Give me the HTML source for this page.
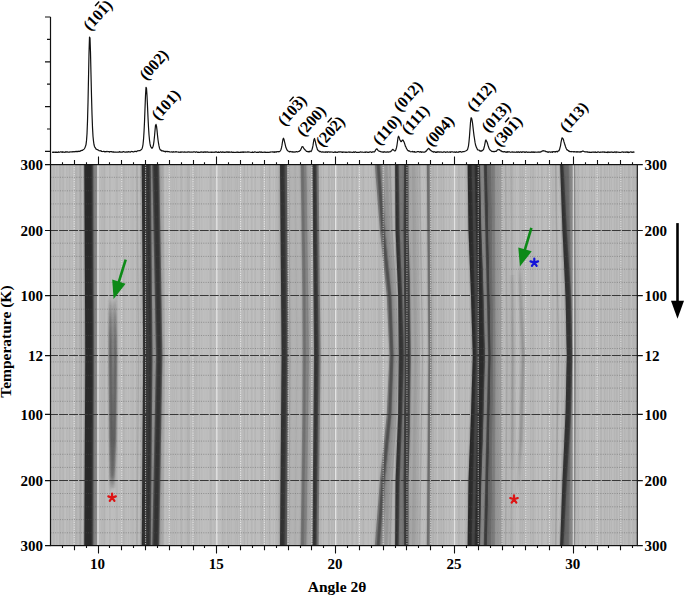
<!DOCTYPE html><html><head><meta charset="utf-8"><style>
html,body{margin:0;padding:0;background:#fff;width:685px;height:595px;overflow:hidden}
svg{display:block}
text{font-family:"Liberation Serif",serif;font-weight:bold;fill:#000}
</style></head><body>
<svg width="685" height="595" viewBox="0 0 685 595">
<defs>
<clipPath id="pc"><rect x="50.5" y="164.6" width="586.8" height="381.0"/></clipPath>
<filter id="bb" filterUnits="userSpaceOnUse" x="0" y="0" width="685" height="595"><feGaussianBlur stdDeviation="1.0 0.3"/></filter>
<filter id="bs" filterUnits="userSpaceOnUse" x="0" y="0" width="685" height="595"><feGaussianBlur stdDeviation="0.9 0.3"/></filter>
</defs>
<g clip-path="url(#pc)">
<rect x="50.5" y="164.6" width="586.8" height="381.0" fill="#bcbcbc"/>
<g><rect x="50.5" y="164.6" width="0.7" height="381.0" fill="#000" opacity="0.028"/><rect x="51.2" y="164.6" width="1.0" height="381.0" fill="#fff" opacity="0.013"/><rect x="52.2" y="164.6" width="0.5" height="381.0" fill="#fff" opacity="0.023"/><rect x="52.7" y="164.6" width="0.7" height="381.0" fill="#fff" opacity="0.034"/><rect x="53.4" y="164.6" width="1.2" height="381.0" fill="#000" opacity="0.042"/><rect x="54.5" y="164.6" width="0.6" height="381.0" fill="#fff" opacity="0.053"/><rect x="55.2" y="164.6" width="0.9" height="381.0" fill="#fff" opacity="0.044"/><rect x="56.1" y="164.6" width="0.6" height="381.0" fill="#fff" opacity="0.040"/><rect x="56.6" y="164.6" width="0.7" height="381.0" fill="#000" opacity="0.053"/><rect x="57.4" y="164.6" width="0.9" height="381.0" fill="#fff" opacity="0.054"/><rect x="58.3" y="164.6" width="1.1" height="381.0" fill="#fff" opacity="0.030"/><rect x="59.3" y="164.6" width="1.1" height="381.0" fill="#000" opacity="0.057"/><rect x="60.5" y="164.6" width="1.2" height="381.0" fill="#000" opacity="0.017"/><rect x="61.7" y="164.6" width="0.7" height="381.0" fill="#fff" opacity="0.032"/><rect x="62.3" y="164.6" width="1.0" height="381.0" fill="#000" opacity="0.035"/><rect x="63.3" y="164.6" width="0.8" height="381.0" fill="#000" opacity="0.039"/><rect x="64.1" y="164.6" width="1.0" height="381.0" fill="#fff" opacity="0.044"/><rect x="65.1" y="164.6" width="1.2" height="381.0" fill="#fff" opacity="0.060"/><rect x="66.4" y="164.6" width="1.0" height="381.0" fill="#000" opacity="0.053"/><rect x="67.4" y="164.6" width="1.3" height="381.0" fill="#fff" opacity="0.038"/><rect x="68.7" y="164.6" width="1.1" height="381.0" fill="#000" opacity="0.052"/><rect x="69.7" y="164.6" width="1.0" height="381.0" fill="#000" opacity="0.013"/><rect x="70.7" y="164.6" width="1.2" height="381.0" fill="#fff" opacity="0.014"/><rect x="71.9" y="164.6" width="1.1" height="381.0" fill="#000" opacity="0.018"/><rect x="73.0" y="164.6" width="0.7" height="381.0" fill="#fff" opacity="0.054"/><rect x="73.8" y="164.6" width="0.5" height="381.0" fill="#fff" opacity="0.012"/><rect x="74.3" y="164.6" width="1.1" height="381.0" fill="#000" opacity="0.054"/><rect x="75.4" y="164.6" width="1.3" height="381.0" fill="#000" opacity="0.060"/><rect x="76.7" y="164.6" width="0.7" height="381.0" fill="#000" opacity="0.040"/><rect x="77.4" y="164.6" width="0.5" height="381.0" fill="#000" opacity="0.030"/><rect x="77.9" y="164.6" width="1.0" height="381.0" fill="#000" opacity="0.012"/><rect x="78.9" y="164.6" width="1.2" height="381.0" fill="#000" opacity="0.058"/><rect x="80.1" y="164.6" width="1.2" height="381.0" fill="#000" opacity="0.033"/><rect x="81.3" y="164.6" width="0.9" height="381.0" fill="#fff" opacity="0.040"/><rect x="82.2" y="164.6" width="0.9" height="381.0" fill="#fff" opacity="0.057"/><rect x="83.2" y="164.6" width="0.9" height="381.0" fill="#000" opacity="0.046"/><rect x="84.1" y="164.6" width="0.7" height="381.0" fill="#000" opacity="0.059"/><rect x="84.8" y="164.6" width="0.9" height="381.0" fill="#000" opacity="0.011"/><rect x="85.7" y="164.6" width="0.8" height="381.0" fill="#fff" opacity="0.011"/><rect x="86.5" y="164.6" width="1.0" height="381.0" fill="#fff" opacity="0.013"/><rect x="87.5" y="164.6" width="1.0" height="381.0" fill="#000" opacity="0.044"/><rect x="88.5" y="164.6" width="0.8" height="381.0" fill="#fff" opacity="0.047"/><rect x="89.3" y="164.6" width="0.5" height="381.0" fill="#000" opacity="0.044"/><rect x="89.8" y="164.6" width="1.3" height="381.0" fill="#000" opacity="0.033"/><rect x="91.1" y="164.6" width="1.0" height="381.0" fill="#000" opacity="0.028"/><rect x="92.1" y="164.6" width="0.8" height="381.0" fill="#000" opacity="0.040"/><rect x="92.8" y="164.6" width="0.7" height="381.0" fill="#000" opacity="0.049"/><rect x="93.6" y="164.6" width="0.5" height="381.0" fill="#fff" opacity="0.047"/><rect x="94.1" y="164.6" width="0.7" height="381.0" fill="#000" opacity="0.050"/><rect x="94.8" y="164.6" width="0.7" height="381.0" fill="#000" opacity="0.032"/><rect x="95.5" y="164.6" width="1.1" height="381.0" fill="#000" opacity="0.026"/><rect x="96.6" y="164.6" width="0.8" height="381.0" fill="#fff" opacity="0.032"/><rect x="97.3" y="164.6" width="1.2" height="381.0" fill="#000" opacity="0.027"/><rect x="98.5" y="164.6" width="1.0" height="381.0" fill="#fff" opacity="0.033"/><rect x="99.6" y="164.6" width="0.7" height="381.0" fill="#000" opacity="0.036"/><rect x="100.2" y="164.6" width="0.7" height="381.0" fill="#fff" opacity="0.052"/><rect x="100.9" y="164.6" width="0.6" height="381.0" fill="#000" opacity="0.050"/><rect x="101.5" y="164.6" width="1.0" height="381.0" fill="#fff" opacity="0.027"/><rect x="102.5" y="164.6" width="0.6" height="381.0" fill="#000" opacity="0.050"/><rect x="103.1" y="164.6" width="0.7" height="381.0" fill="#000" opacity="0.031"/><rect x="103.9" y="164.6" width="0.8" height="381.0" fill="#000" opacity="0.056"/><rect x="104.7" y="164.6" width="0.6" height="381.0" fill="#000" opacity="0.057"/><rect x="105.3" y="164.6" width="1.2" height="381.0" fill="#fff" opacity="0.032"/><rect x="106.5" y="164.6" width="1.3" height="381.0" fill="#fff" opacity="0.021"/><rect x="107.8" y="164.6" width="1.1" height="381.0" fill="#fff" opacity="0.043"/><rect x="108.9" y="164.6" width="0.9" height="381.0" fill="#000" opacity="0.027"/><rect x="109.8" y="164.6" width="0.7" height="381.0" fill="#000" opacity="0.039"/><rect x="110.5" y="164.6" width="0.7" height="381.0" fill="#fff" opacity="0.012"/><rect x="111.2" y="164.6" width="1.2" height="381.0" fill="#fff" opacity="0.056"/><rect x="112.4" y="164.6" width="1.2" height="381.0" fill="#fff" opacity="0.039"/><rect x="113.7" y="164.6" width="0.5" height="381.0" fill="#fff" opacity="0.019"/><rect x="114.2" y="164.6" width="0.7" height="381.0" fill="#fff" opacity="0.036"/><rect x="114.9" y="164.6" width="0.8" height="381.0" fill="#fff" opacity="0.041"/><rect x="115.7" y="164.6" width="0.8" height="381.0" fill="#000" opacity="0.053"/><rect x="116.5" y="164.6" width="0.9" height="381.0" fill="#fff" opacity="0.028"/><rect x="117.4" y="164.6" width="0.7" height="381.0" fill="#000" opacity="0.051"/><rect x="118.0" y="164.6" width="0.6" height="381.0" fill="#fff" opacity="0.056"/><rect x="118.7" y="164.6" width="1.1" height="381.0" fill="#fff" opacity="0.010"/><rect x="119.8" y="164.6" width="1.0" height="381.0" fill="#fff" opacity="0.012"/><rect x="120.8" y="164.6" width="0.7" height="381.0" fill="#000" opacity="0.036"/><rect x="121.6" y="164.6" width="0.8" height="381.0" fill="#000" opacity="0.049"/><rect x="122.4" y="164.6" width="0.5" height="381.0" fill="#000" opacity="0.016"/><rect x="122.9" y="164.6" width="0.6" height="381.0" fill="#000" opacity="0.059"/><rect x="123.5" y="164.6" width="1.2" height="381.0" fill="#000" opacity="0.035"/><rect x="124.7" y="164.6" width="0.8" height="381.0" fill="#000" opacity="0.028"/><rect x="125.4" y="164.6" width="1.0" height="381.0" fill="#fff" opacity="0.028"/><rect x="126.4" y="164.6" width="0.7" height="381.0" fill="#000" opacity="0.016"/><rect x="127.1" y="164.6" width="0.9" height="381.0" fill="#fff" opacity="0.029"/><rect x="128.0" y="164.6" width="0.6" height="381.0" fill="#000" opacity="0.029"/><rect x="128.6" y="164.6" width="1.0" height="381.0" fill="#fff" opacity="0.029"/><rect x="129.6" y="164.6" width="1.1" height="381.0" fill="#fff" opacity="0.032"/><rect x="130.7" y="164.6" width="0.8" height="381.0" fill="#000" opacity="0.045"/><rect x="131.5" y="164.6" width="0.8" height="381.0" fill="#fff" opacity="0.033"/><rect x="132.4" y="164.6" width="0.7" height="381.0" fill="#000" opacity="0.045"/><rect x="133.1" y="164.6" width="0.6" height="381.0" fill="#000" opacity="0.031"/><rect x="133.6" y="164.6" width="1.2" height="381.0" fill="#fff" opacity="0.029"/><rect x="134.8" y="164.6" width="1.2" height="381.0" fill="#fff" opacity="0.023"/><rect x="136.0" y="164.6" width="0.9" height="381.0" fill="#000" opacity="0.051"/><rect x="136.9" y="164.6" width="1.0" height="381.0" fill="#fff" opacity="0.050"/><rect x="137.9" y="164.6" width="1.0" height="381.0" fill="#fff" opacity="0.038"/><rect x="139.0" y="164.6" width="0.6" height="381.0" fill="#fff" opacity="0.010"/><rect x="139.6" y="164.6" width="0.6" height="381.0" fill="#fff" opacity="0.012"/><rect x="140.2" y="164.6" width="0.6" height="381.0" fill="#000" opacity="0.054"/><rect x="140.7" y="164.6" width="0.6" height="381.0" fill="#000" opacity="0.052"/><rect x="141.4" y="164.6" width="0.6" height="381.0" fill="#fff" opacity="0.044"/><rect x="142.0" y="164.6" width="1.2" height="381.0" fill="#fff" opacity="0.039"/><rect x="143.2" y="164.6" width="1.1" height="381.0" fill="#000" opacity="0.048"/><rect x="144.3" y="164.6" width="0.9" height="381.0" fill="#fff" opacity="0.015"/><rect x="145.2" y="164.6" width="1.1" height="381.0" fill="#fff" opacity="0.013"/><rect x="146.3" y="164.6" width="0.8" height="381.0" fill="#fff" opacity="0.051"/><rect x="147.1" y="164.6" width="0.7" height="381.0" fill="#000" opacity="0.022"/><rect x="147.8" y="164.6" width="1.0" height="381.0" fill="#fff" opacity="0.030"/><rect x="148.7" y="164.6" width="0.8" height="381.0" fill="#000" opacity="0.028"/><rect x="149.5" y="164.6" width="0.8" height="381.0" fill="#000" opacity="0.035"/><rect x="150.4" y="164.6" width="1.3" height="381.0" fill="#000" opacity="0.047"/><rect x="151.7" y="164.6" width="0.6" height="381.0" fill="#fff" opacity="0.048"/><rect x="152.3" y="164.6" width="1.0" height="381.0" fill="#000" opacity="0.034"/><rect x="153.3" y="164.6" width="1.0" height="381.0" fill="#fff" opacity="0.017"/><rect x="154.3" y="164.6" width="0.6" height="381.0" fill="#fff" opacity="0.056"/><rect x="154.9" y="164.6" width="0.9" height="381.0" fill="#000" opacity="0.046"/><rect x="155.8" y="164.6" width="0.6" height="381.0" fill="#000" opacity="0.020"/><rect x="156.5" y="164.6" width="1.0" height="381.0" fill="#000" opacity="0.022"/><rect x="157.4" y="164.6" width="1.1" height="381.0" fill="#fff" opacity="0.025"/><rect x="158.5" y="164.6" width="1.1" height="381.0" fill="#000" opacity="0.053"/><rect x="159.6" y="164.6" width="1.0" height="381.0" fill="#000" opacity="0.021"/><rect x="160.5" y="164.6" width="0.5" height="381.0" fill="#000" opacity="0.029"/><rect x="161.0" y="164.6" width="0.6" height="381.0" fill="#000" opacity="0.026"/><rect x="161.7" y="164.6" width="1.1" height="381.0" fill="#000" opacity="0.060"/><rect x="162.8" y="164.6" width="0.9" height="381.0" fill="#fff" opacity="0.033"/><rect x="163.7" y="164.6" width="1.2" height="381.0" fill="#fff" opacity="0.038"/><rect x="164.9" y="164.6" width="0.9" height="381.0" fill="#fff" opacity="0.053"/><rect x="165.7" y="164.6" width="0.8" height="381.0" fill="#fff" opacity="0.058"/><rect x="166.6" y="164.6" width="0.9" height="381.0" fill="#000" opacity="0.022"/><rect x="167.4" y="164.6" width="1.1" height="381.0" fill="#fff" opacity="0.058"/><rect x="168.5" y="164.6" width="1.2" height="381.0" fill="#000" opacity="0.019"/><rect x="169.7" y="164.6" width="0.7" height="381.0" fill="#000" opacity="0.045"/><rect x="170.4" y="164.6" width="1.2" height="381.0" fill="#fff" opacity="0.023"/><rect x="171.6" y="164.6" width="1.2" height="381.0" fill="#000" opacity="0.031"/><rect x="172.8" y="164.6" width="1.1" height="381.0" fill="#000" opacity="0.015"/><rect x="173.9" y="164.6" width="1.2" height="381.0" fill="#000" opacity="0.028"/><rect x="175.0" y="164.6" width="1.0" height="381.0" fill="#fff" opacity="0.010"/><rect x="176.0" y="164.6" width="0.8" height="381.0" fill="#000" opacity="0.034"/><rect x="176.8" y="164.6" width="0.7" height="381.0" fill="#fff" opacity="0.058"/><rect x="177.4" y="164.6" width="0.8" height="381.0" fill="#000" opacity="0.016"/><rect x="178.2" y="164.6" width="0.7" height="381.0" fill="#fff" opacity="0.016"/><rect x="179.0" y="164.6" width="1.2" height="381.0" fill="#fff" opacity="0.015"/><rect x="180.2" y="164.6" width="1.3" height="381.0" fill="#000" opacity="0.049"/><rect x="181.4" y="164.6" width="1.1" height="381.0" fill="#000" opacity="0.044"/><rect x="182.5" y="164.6" width="1.0" height="381.0" fill="#fff" opacity="0.023"/><rect x="183.6" y="164.6" width="1.1" height="381.0" fill="#fff" opacity="0.044"/><rect x="184.7" y="164.6" width="0.9" height="381.0" fill="#000" opacity="0.035"/><rect x="185.6" y="164.6" width="0.8" height="381.0" fill="#fff" opacity="0.044"/><rect x="186.4" y="164.6" width="1.0" height="381.0" fill="#000" opacity="0.042"/><rect x="187.3" y="164.6" width="1.0" height="381.0" fill="#000" opacity="0.054"/><rect x="188.3" y="164.6" width="1.0" height="381.0" fill="#000" opacity="0.057"/><rect x="189.3" y="164.6" width="0.6" height="381.0" fill="#000" opacity="0.046"/><rect x="190.0" y="164.6" width="1.0" height="381.0" fill="#fff" opacity="0.042"/><rect x="190.9" y="164.6" width="0.9" height="381.0" fill="#000" opacity="0.019"/><rect x="191.8" y="164.6" width="0.6" height="381.0" fill="#fff" opacity="0.048"/><rect x="192.4" y="164.6" width="0.9" height="381.0" fill="#fff" opacity="0.028"/><rect x="193.3" y="164.6" width="0.7" height="381.0" fill="#000" opacity="0.054"/><rect x="194.0" y="164.6" width="0.5" height="381.0" fill="#000" opacity="0.022"/><rect x="194.5" y="164.6" width="1.1" height="381.0" fill="#000" opacity="0.027"/><rect x="195.7" y="164.6" width="0.8" height="381.0" fill="#000" opacity="0.049"/><rect x="196.5" y="164.6" width="0.8" height="381.0" fill="#fff" opacity="0.016"/><rect x="197.3" y="164.6" width="0.7" height="381.0" fill="#000" opacity="0.016"/><rect x="198.0" y="164.6" width="1.1" height="381.0" fill="#fff" opacity="0.019"/><rect x="199.1" y="164.6" width="0.7" height="381.0" fill="#000" opacity="0.047"/><rect x="199.8" y="164.6" width="1.2" height="381.0" fill="#fff" opacity="0.040"/><rect x="200.9" y="164.6" width="0.6" height="381.0" fill="#000" opacity="0.020"/><rect x="201.5" y="164.6" width="0.9" height="381.0" fill="#fff" opacity="0.020"/><rect x="202.4" y="164.6" width="0.7" height="381.0" fill="#fff" opacity="0.012"/><rect x="203.1" y="164.6" width="1.1" height="381.0" fill="#fff" opacity="0.057"/><rect x="204.3" y="164.6" width="0.8" height="381.0" fill="#fff" opacity="0.039"/><rect x="205.1" y="164.6" width="1.0" height="381.0" fill="#fff" opacity="0.044"/><rect x="206.1" y="164.6" width="0.7" height="381.0" fill="#fff" opacity="0.034"/><rect x="206.8" y="164.6" width="1.0" height="381.0" fill="#fff" opacity="0.010"/><rect x="207.8" y="164.6" width="1.1" height="381.0" fill="#fff" opacity="0.035"/><rect x="208.9" y="164.6" width="0.9" height="381.0" fill="#000" opacity="0.020"/><rect x="209.9" y="164.6" width="0.9" height="381.0" fill="#000" opacity="0.035"/><rect x="210.8" y="164.6" width="1.0" height="381.0" fill="#000" opacity="0.038"/><rect x="211.8" y="164.6" width="1.3" height="381.0" fill="#fff" opacity="0.017"/><rect x="213.1" y="164.6" width="1.1" height="381.0" fill="#fff" opacity="0.013"/><rect x="214.2" y="164.6" width="0.8" height="381.0" fill="#000" opacity="0.014"/><rect x="215.0" y="164.6" width="0.9" height="381.0" fill="#fff" opacity="0.026"/><rect x="215.9" y="164.6" width="1.2" height="381.0" fill="#fff" opacity="0.017"/><rect x="217.1" y="164.6" width="1.2" height="381.0" fill="#fff" opacity="0.056"/><rect x="218.3" y="164.6" width="1.1" height="381.0" fill="#fff" opacity="0.027"/><rect x="219.4" y="164.6" width="1.1" height="381.0" fill="#fff" opacity="0.053"/><rect x="220.5" y="164.6" width="0.8" height="381.0" fill="#fff" opacity="0.034"/><rect x="221.4" y="164.6" width="0.6" height="381.0" fill="#000" opacity="0.014"/><rect x="222.0" y="164.6" width="0.7" height="381.0" fill="#000" opacity="0.035"/><rect x="222.6" y="164.6" width="1.1" height="381.0" fill="#000" opacity="0.031"/><rect x="223.7" y="164.6" width="1.0" height="381.0" fill="#000" opacity="0.033"/><rect x="224.7" y="164.6" width="1.1" height="381.0" fill="#000" opacity="0.019"/><rect x="225.8" y="164.6" width="1.2" height="381.0" fill="#fff" opacity="0.028"/><rect x="227.0" y="164.6" width="0.8" height="381.0" fill="#000" opacity="0.040"/><rect x="227.8" y="164.6" width="0.7" height="381.0" fill="#000" opacity="0.020"/><rect x="228.5" y="164.6" width="1.1" height="381.0" fill="#000" opacity="0.033"/><rect x="229.6" y="164.6" width="0.7" height="381.0" fill="#000" opacity="0.019"/><rect x="230.3" y="164.6" width="0.8" height="381.0" fill="#000" opacity="0.011"/><rect x="231.1" y="164.6" width="0.6" height="381.0" fill="#000" opacity="0.035"/><rect x="231.7" y="164.6" width="0.5" height="381.0" fill="#000" opacity="0.032"/><rect x="232.2" y="164.6" width="0.8" height="381.0" fill="#fff" opacity="0.013"/><rect x="233.1" y="164.6" width="0.8" height="381.0" fill="#000" opacity="0.011"/><rect x="233.9" y="164.6" width="1.3" height="381.0" fill="#000" opacity="0.015"/><rect x="235.2" y="164.6" width="0.9" height="381.0" fill="#000" opacity="0.041"/><rect x="236.0" y="164.6" width="0.8" height="381.0" fill="#000" opacity="0.013"/><rect x="236.8" y="164.6" width="1.1" height="381.0" fill="#000" opacity="0.049"/><rect x="237.9" y="164.6" width="0.9" height="381.0" fill="#fff" opacity="0.025"/><rect x="238.8" y="164.6" width="0.7" height="381.0" fill="#000" opacity="0.051"/><rect x="239.5" y="164.6" width="1.0" height="381.0" fill="#000" opacity="0.015"/><rect x="240.5" y="164.6" width="1.0" height="381.0" fill="#fff" opacity="0.040"/><rect x="241.5" y="164.6" width="0.5" height="381.0" fill="#000" opacity="0.015"/><rect x="242.0" y="164.6" width="0.6" height="381.0" fill="#000" opacity="0.013"/><rect x="242.7" y="164.6" width="1.0" height="381.0" fill="#fff" opacity="0.020"/><rect x="243.7" y="164.6" width="1.3" height="381.0" fill="#000" opacity="0.050"/><rect x="245.0" y="164.6" width="1.2" height="381.0" fill="#fff" opacity="0.012"/><rect x="246.2" y="164.6" width="0.7" height="381.0" fill="#fff" opacity="0.057"/><rect x="246.9" y="164.6" width="0.6" height="381.0" fill="#000" opacity="0.052"/><rect x="247.5" y="164.6" width="0.6" height="381.0" fill="#000" opacity="0.027"/><rect x="248.1" y="164.6" width="1.0" height="381.0" fill="#fff" opacity="0.019"/><rect x="249.1" y="164.6" width="1.1" height="381.0" fill="#fff" opacity="0.052"/><rect x="250.2" y="164.6" width="0.9" height="381.0" fill="#fff" opacity="0.028"/><rect x="251.2" y="164.6" width="0.8" height="381.0" fill="#000" opacity="0.049"/><rect x="252.0" y="164.6" width="0.9" height="381.0" fill="#000" opacity="0.018"/><rect x="252.9" y="164.6" width="1.1" height="381.0" fill="#fff" opacity="0.046"/><rect x="254.0" y="164.6" width="0.8" height="381.0" fill="#000" opacity="0.018"/><rect x="254.8" y="164.6" width="1.1" height="381.0" fill="#000" opacity="0.033"/><rect x="255.9" y="164.6" width="1.1" height="381.0" fill="#fff" opacity="0.015"/><rect x="257.0" y="164.6" width="0.7" height="381.0" fill="#fff" opacity="0.042"/><rect x="257.6" y="164.6" width="1.2" height="381.0" fill="#fff" opacity="0.032"/><rect x="258.8" y="164.6" width="1.2" height="381.0" fill="#fff" opacity="0.027"/><rect x="260.1" y="164.6" width="0.8" height="381.0" fill="#000" opacity="0.030"/><rect x="260.9" y="164.6" width="1.3" height="381.0" fill="#000" opacity="0.038"/><rect x="262.1" y="164.6" width="0.6" height="381.0" fill="#000" opacity="0.042"/><rect x="262.7" y="164.6" width="0.7" height="381.0" fill="#000" opacity="0.018"/><rect x="263.4" y="164.6" width="1.0" height="381.0" fill="#fff" opacity="0.011"/><rect x="264.4" y="164.6" width="0.7" height="381.0" fill="#fff" opacity="0.021"/><rect x="265.1" y="164.6" width="0.9" height="381.0" fill="#000" opacity="0.049"/><rect x="266.1" y="164.6" width="1.0" height="381.0" fill="#fff" opacity="0.037"/><rect x="267.0" y="164.6" width="0.7" height="381.0" fill="#000" opacity="0.014"/><rect x="267.7" y="164.6" width="1.2" height="381.0" fill="#000" opacity="0.011"/><rect x="268.9" y="164.6" width="1.3" height="381.0" fill="#000" opacity="0.055"/><rect x="270.1" y="164.6" width="0.6" height="381.0" fill="#000" opacity="0.021"/><rect x="270.7" y="164.6" width="1.2" height="381.0" fill="#fff" opacity="0.042"/><rect x="271.9" y="164.6" width="1.1" height="381.0" fill="#fff" opacity="0.027"/><rect x="273.0" y="164.6" width="1.0" height="381.0" fill="#000" opacity="0.016"/><rect x="273.9" y="164.6" width="1.2" height="381.0" fill="#fff" opacity="0.051"/><rect x="275.1" y="164.6" width="0.7" height="381.0" fill="#000" opacity="0.033"/><rect x="275.8" y="164.6" width="1.1" height="381.0" fill="#000" opacity="0.027"/><rect x="276.9" y="164.6" width="0.9" height="381.0" fill="#000" opacity="0.038"/><rect x="277.8" y="164.6" width="1.1" height="381.0" fill="#000" opacity="0.042"/><rect x="278.8" y="164.6" width="1.0" height="381.0" fill="#000" opacity="0.028"/><rect x="279.8" y="164.6" width="1.3" height="381.0" fill="#000" opacity="0.032"/><rect x="281.1" y="164.6" width="0.6" height="381.0" fill="#000" opacity="0.018"/><rect x="281.7" y="164.6" width="1.2" height="381.0" fill="#fff" opacity="0.054"/><rect x="282.9" y="164.6" width="1.3" height="381.0" fill="#fff" opacity="0.057"/><rect x="284.2" y="164.6" width="0.9" height="381.0" fill="#000" opacity="0.057"/><rect x="285.2" y="164.6" width="1.2" height="381.0" fill="#fff" opacity="0.034"/><rect x="286.4" y="164.6" width="1.1" height="381.0" fill="#000" opacity="0.060"/><rect x="287.5" y="164.6" width="1.2" height="381.0" fill="#000" opacity="0.057"/><rect x="288.7" y="164.6" width="0.6" height="381.0" fill="#000" opacity="0.046"/><rect x="289.4" y="164.6" width="0.7" height="381.0" fill="#000" opacity="0.042"/><rect x="290.1" y="164.6" width="0.5" height="381.0" fill="#fff" opacity="0.024"/><rect x="290.6" y="164.6" width="0.8" height="381.0" fill="#000" opacity="0.047"/><rect x="291.5" y="164.6" width="1.1" height="381.0" fill="#000" opacity="0.015"/><rect x="292.6" y="164.6" width="0.7" height="381.0" fill="#000" opacity="0.014"/><rect x="293.3" y="164.6" width="0.6" height="381.0" fill="#fff" opacity="0.045"/><rect x="294.0" y="164.6" width="1.3" height="381.0" fill="#fff" opacity="0.054"/><rect x="295.2" y="164.6" width="0.8" height="381.0" fill="#000" opacity="0.026"/><rect x="296.0" y="164.6" width="0.9" height="381.0" fill="#000" opacity="0.037"/><rect x="296.9" y="164.6" width="0.8" height="381.0" fill="#fff" opacity="0.024"/><rect x="297.7" y="164.6" width="0.9" height="381.0" fill="#fff" opacity="0.050"/><rect x="298.6" y="164.6" width="0.7" height="381.0" fill="#000" opacity="0.050"/><rect x="299.3" y="164.6" width="0.5" height="381.0" fill="#000" opacity="0.037"/><rect x="299.8" y="164.6" width="0.9" height="381.0" fill="#000" opacity="0.013"/><rect x="300.7" y="164.6" width="0.7" height="381.0" fill="#fff" opacity="0.033"/><rect x="301.4" y="164.6" width="1.3" height="381.0" fill="#fff" opacity="0.059"/><rect x="302.7" y="164.6" width="0.5" height="381.0" fill="#000" opacity="0.011"/><rect x="303.2" y="164.6" width="0.8" height="381.0" fill="#000" opacity="0.013"/><rect x="304.1" y="164.6" width="0.9" height="381.0" fill="#000" opacity="0.026"/><rect x="305.0" y="164.6" width="0.7" height="381.0" fill="#fff" opacity="0.031"/><rect x="305.7" y="164.6" width="0.7" height="381.0" fill="#000" opacity="0.031"/><rect x="306.4" y="164.6" width="1.0" height="381.0" fill="#fff" opacity="0.056"/><rect x="307.4" y="164.6" width="1.1" height="381.0" fill="#000" opacity="0.017"/><rect x="308.5" y="164.6" width="1.1" height="381.0" fill="#fff" opacity="0.035"/><rect x="309.7" y="164.6" width="1.2" height="381.0" fill="#fff" opacity="0.024"/><rect x="310.8" y="164.6" width="0.6" height="381.0" fill="#000" opacity="0.042"/><rect x="311.5" y="164.6" width="1.2" height="381.0" fill="#fff" opacity="0.033"/><rect x="312.7" y="164.6" width="1.0" height="381.0" fill="#fff" opacity="0.051"/><rect x="313.7" y="164.6" width="1.0" height="381.0" fill="#000" opacity="0.036"/><rect x="314.7" y="164.6" width="0.6" height="381.0" fill="#000" opacity="0.044"/><rect x="315.3" y="164.6" width="1.3" height="381.0" fill="#000" opacity="0.030"/><rect x="316.6" y="164.6" width="0.8" height="381.0" fill="#000" opacity="0.050"/><rect x="317.4" y="164.6" width="0.9" height="381.0" fill="#fff" opacity="0.018"/><rect x="318.3" y="164.6" width="0.8" height="381.0" fill="#000" opacity="0.031"/><rect x="319.0" y="164.6" width="1.2" height="381.0" fill="#fff" opacity="0.057"/><rect x="320.2" y="164.6" width="1.0" height="381.0" fill="#000" opacity="0.039"/><rect x="321.2" y="164.6" width="0.9" height="381.0" fill="#000" opacity="0.024"/><rect x="322.1" y="164.6" width="1.1" height="381.0" fill="#fff" opacity="0.015"/><rect x="323.2" y="164.6" width="1.0" height="381.0" fill="#000" opacity="0.036"/><rect x="324.2" y="164.6" width="1.2" height="381.0" fill="#fff" opacity="0.042"/><rect x="325.4" y="164.6" width="0.7" height="381.0" fill="#fff" opacity="0.019"/><rect x="326.1" y="164.6" width="0.8" height="381.0" fill="#fff" opacity="0.026"/><rect x="326.9" y="164.6" width="0.7" height="381.0" fill="#fff" opacity="0.057"/><rect x="327.6" y="164.6" width="0.8" height="381.0" fill="#000" opacity="0.024"/><rect x="328.4" y="164.6" width="0.6" height="381.0" fill="#000" opacity="0.059"/><rect x="329.0" y="164.6" width="0.6" height="381.0" fill="#000" opacity="0.020"/><rect x="329.5" y="164.6" width="0.6" height="381.0" fill="#000" opacity="0.047"/><rect x="330.1" y="164.6" width="1.2" height="381.0" fill="#fff" opacity="0.051"/><rect x="331.3" y="164.6" width="0.5" height="381.0" fill="#000" opacity="0.058"/><rect x="331.8" y="164.6" width="0.6" height="381.0" fill="#000" opacity="0.034"/><rect x="332.3" y="164.6" width="0.7" height="381.0" fill="#000" opacity="0.012"/><rect x="333.0" y="164.6" width="0.7" height="381.0" fill="#fff" opacity="0.017"/><rect x="333.7" y="164.6" width="1.2" height="381.0" fill="#000" opacity="0.060"/><rect x="335.0" y="164.6" width="1.0" height="381.0" fill="#fff" opacity="0.017"/><rect x="336.0" y="164.6" width="0.5" height="381.0" fill="#fff" opacity="0.019"/><rect x="336.5" y="164.6" width="0.7" height="381.0" fill="#fff" opacity="0.054"/><rect x="337.2" y="164.6" width="0.5" height="381.0" fill="#fff" opacity="0.037"/><rect x="337.7" y="164.6" width="0.8" height="381.0" fill="#000" opacity="0.029"/><rect x="338.5" y="164.6" width="1.3" height="381.0" fill="#000" opacity="0.017"/><rect x="339.8" y="164.6" width="0.6" height="381.0" fill="#000" opacity="0.028"/><rect x="340.4" y="164.6" width="1.2" height="381.0" fill="#000" opacity="0.020"/><rect x="341.7" y="164.6" width="1.3" height="381.0" fill="#fff" opacity="0.059"/><rect x="342.9" y="164.6" width="0.7" height="381.0" fill="#000" opacity="0.058"/><rect x="343.6" y="164.6" width="0.9" height="381.0" fill="#fff" opacity="0.026"/><rect x="344.5" y="164.6" width="0.5" height="381.0" fill="#000" opacity="0.047"/><rect x="345.0" y="164.6" width="1.1" height="381.0" fill="#fff" opacity="0.033"/><rect x="346.2" y="164.6" width="0.9" height="381.0" fill="#000" opacity="0.037"/><rect x="347.1" y="164.6" width="1.2" height="381.0" fill="#000" opacity="0.040"/><rect x="348.3" y="164.6" width="1.2" height="381.0" fill="#fff" opacity="0.019"/><rect x="349.5" y="164.6" width="1.3" height="381.0" fill="#fff" opacity="0.018"/><rect x="350.8" y="164.6" width="0.7" height="381.0" fill="#000" opacity="0.013"/><rect x="351.5" y="164.6" width="1.3" height="381.0" fill="#000" opacity="0.054"/><rect x="352.8" y="164.6" width="0.6" height="381.0" fill="#000" opacity="0.053"/><rect x="353.4" y="164.6" width="1.1" height="381.0" fill="#fff" opacity="0.044"/><rect x="354.5" y="164.6" width="0.9" height="381.0" fill="#fff" opacity="0.015"/><rect x="355.4" y="164.6" width="0.9" height="381.0" fill="#000" opacity="0.017"/><rect x="356.3" y="164.6" width="1.0" height="381.0" fill="#000" opacity="0.035"/><rect x="357.3" y="164.6" width="0.8" height="381.0" fill="#000" opacity="0.028"/><rect x="358.1" y="164.6" width="1.0" height="381.0" fill="#fff" opacity="0.057"/><rect x="359.1" y="164.6" width="1.2" height="381.0" fill="#fff" opacity="0.024"/><rect x="360.3" y="164.6" width="1.3" height="381.0" fill="#000" opacity="0.016"/><rect x="361.6" y="164.6" width="0.9" height="381.0" fill="#fff" opacity="0.027"/><rect x="362.5" y="164.6" width="1.0" height="381.0" fill="#000" opacity="0.058"/><rect x="363.5" y="164.6" width="0.9" height="381.0" fill="#000" opacity="0.037"/><rect x="364.4" y="164.6" width="1.2" height="381.0" fill="#fff" opacity="0.036"/><rect x="365.6" y="164.6" width="0.9" height="381.0" fill="#fff" opacity="0.013"/><rect x="366.4" y="164.6" width="0.8" height="381.0" fill="#fff" opacity="0.049"/><rect x="367.3" y="164.6" width="0.5" height="381.0" fill="#fff" opacity="0.029"/><rect x="367.8" y="164.6" width="1.3" height="381.0" fill="#000" opacity="0.021"/><rect x="369.1" y="164.6" width="0.9" height="381.0" fill="#fff" opacity="0.032"/><rect x="370.0" y="164.6" width="1.2" height="381.0" fill="#fff" opacity="0.028"/><rect x="371.2" y="164.6" width="0.7" height="381.0" fill="#000" opacity="0.030"/><rect x="372.0" y="164.6" width="0.8" height="381.0" fill="#fff" opacity="0.054"/><rect x="372.8" y="164.6" width="1.0" height="381.0" fill="#000" opacity="0.021"/><rect x="373.7" y="164.6" width="0.8" height="381.0" fill="#fff" opacity="0.017"/><rect x="374.5" y="164.6" width="0.6" height="381.0" fill="#000" opacity="0.024"/><rect x="375.1" y="164.6" width="0.5" height="381.0" fill="#000" opacity="0.056"/><rect x="375.6" y="164.6" width="0.9" height="381.0" fill="#fff" opacity="0.051"/><rect x="376.5" y="164.6" width="1.2" height="381.0" fill="#fff" opacity="0.032"/><rect x="377.7" y="164.6" width="1.0" height="381.0" fill="#000" opacity="0.054"/><rect x="378.8" y="164.6" width="0.8" height="381.0" fill="#000" opacity="0.055"/><rect x="379.6" y="164.6" width="0.7" height="381.0" fill="#000" opacity="0.051"/><rect x="380.3" y="164.6" width="1.0" height="381.0" fill="#000" opacity="0.011"/><rect x="381.3" y="164.6" width="0.8" height="381.0" fill="#000" opacity="0.052"/><rect x="382.0" y="164.6" width="0.6" height="381.0" fill="#000" opacity="0.029"/><rect x="382.7" y="164.6" width="0.9" height="381.0" fill="#000" opacity="0.041"/><rect x="383.6" y="164.6" width="1.0" height="381.0" fill="#000" opacity="0.015"/><rect x="384.6" y="164.6" width="1.3" height="381.0" fill="#fff" opacity="0.014"/><rect x="385.9" y="164.6" width="0.9" height="381.0" fill="#fff" opacity="0.060"/><rect x="386.8" y="164.6" width="0.6" height="381.0" fill="#000" opacity="0.034"/><rect x="387.3" y="164.6" width="0.8" height="381.0" fill="#fff" opacity="0.051"/><rect x="388.2" y="164.6" width="0.8" height="381.0" fill="#000" opacity="0.039"/><rect x="388.9" y="164.6" width="1.2" height="381.0" fill="#000" opacity="0.030"/><rect x="390.1" y="164.6" width="0.6" height="381.0" fill="#fff" opacity="0.011"/><rect x="390.7" y="164.6" width="1.2" height="381.0" fill="#000" opacity="0.039"/><rect x="391.9" y="164.6" width="0.6" height="381.0" fill="#000" opacity="0.033"/><rect x="392.5" y="164.6" width="1.2" height="381.0" fill="#000" opacity="0.024"/><rect x="393.7" y="164.6" width="1.3" height="381.0" fill="#fff" opacity="0.036"/><rect x="395.0" y="164.6" width="0.7" height="381.0" fill="#000" opacity="0.055"/><rect x="395.6" y="164.6" width="0.6" height="381.0" fill="#000" opacity="0.041"/><rect x="396.3" y="164.6" width="0.8" height="381.0" fill="#fff" opacity="0.055"/><rect x="397.0" y="164.6" width="1.2" height="381.0" fill="#fff" opacity="0.020"/><rect x="398.2" y="164.6" width="0.5" height="381.0" fill="#000" opacity="0.026"/><rect x="398.8" y="164.6" width="0.7" height="381.0" fill="#fff" opacity="0.021"/><rect x="399.4" y="164.6" width="1.2" height="381.0" fill="#fff" opacity="0.016"/><rect x="400.6" y="164.6" width="1.2" height="381.0" fill="#000" opacity="0.021"/><rect x="401.8" y="164.6" width="0.6" height="381.0" fill="#000" opacity="0.035"/><rect x="402.5" y="164.6" width="0.8" height="381.0" fill="#fff" opacity="0.052"/><rect x="403.3" y="164.6" width="0.5" height="381.0" fill="#000" opacity="0.029"/><rect x="403.8" y="164.6" width="0.6" height="381.0" fill="#000" opacity="0.023"/><rect x="404.5" y="164.6" width="1.1" height="381.0" fill="#000" opacity="0.016"/><rect x="405.5" y="164.6" width="0.7" height="381.0" fill="#000" opacity="0.038"/><rect x="406.2" y="164.6" width="0.7" height="381.0" fill="#fff" opacity="0.021"/><rect x="406.9" y="164.6" width="1.0" height="381.0" fill="#fff" opacity="0.019"/><rect x="407.9" y="164.6" width="1.1" height="381.0" fill="#000" opacity="0.037"/><rect x="409.0" y="164.6" width="1.0" height="381.0" fill="#fff" opacity="0.032"/><rect x="410.0" y="164.6" width="0.5" height="381.0" fill="#fff" opacity="0.053"/><rect x="410.6" y="164.6" width="0.9" height="381.0" fill="#fff" opacity="0.023"/><rect x="411.4" y="164.6" width="1.2" height="381.0" fill="#fff" opacity="0.021"/><rect x="412.7" y="164.6" width="1.2" height="381.0" fill="#fff" opacity="0.027"/><rect x="413.8" y="164.6" width="1.3" height="381.0" fill="#000" opacity="0.019"/><rect x="415.1" y="164.6" width="1.1" height="381.0" fill="#000" opacity="0.047"/><rect x="416.2" y="164.6" width="1.0" height="381.0" fill="#000" opacity="0.036"/><rect x="417.2" y="164.6" width="1.2" height="381.0" fill="#000" opacity="0.037"/><rect x="418.3" y="164.6" width="1.2" height="381.0" fill="#000" opacity="0.035"/><rect x="419.5" y="164.6" width="1.0" height="381.0" fill="#fff" opacity="0.020"/><rect x="420.5" y="164.6" width="0.6" height="381.0" fill="#fff" opacity="0.038"/><rect x="421.1" y="164.6" width="0.7" height="381.0" fill="#fff" opacity="0.054"/><rect x="421.8" y="164.6" width="0.9" height="381.0" fill="#fff" opacity="0.052"/><rect x="422.7" y="164.6" width="1.1" height="381.0" fill="#000" opacity="0.011"/><rect x="423.8" y="164.6" width="1.0" height="381.0" fill="#fff" opacity="0.028"/><rect x="424.9" y="164.6" width="0.9" height="381.0" fill="#fff" opacity="0.022"/><rect x="425.8" y="164.6" width="1.1" height="381.0" fill="#fff" opacity="0.029"/><rect x="426.8" y="164.6" width="0.6" height="381.0" fill="#fff" opacity="0.026"/><rect x="427.4" y="164.6" width="1.1" height="381.0" fill="#000" opacity="0.030"/><rect x="428.5" y="164.6" width="0.7" height="381.0" fill="#000" opacity="0.039"/><rect x="429.1" y="164.6" width="0.6" height="381.0" fill="#000" opacity="0.034"/><rect x="429.7" y="164.6" width="0.7" height="381.0" fill="#000" opacity="0.018"/><rect x="430.4" y="164.6" width="0.6" height="381.0" fill="#000" opacity="0.056"/><rect x="431.0" y="164.6" width="1.2" height="381.0" fill="#000" opacity="0.030"/><rect x="432.2" y="164.6" width="0.6" height="381.0" fill="#000" opacity="0.026"/><rect x="432.7" y="164.6" width="1.3" height="381.0" fill="#000" opacity="0.057"/><rect x="434.0" y="164.6" width="0.9" height="381.0" fill="#000" opacity="0.023"/><rect x="434.9" y="164.6" width="1.3" height="381.0" fill="#000" opacity="0.039"/><rect x="436.1" y="164.6" width="0.9" height="381.0" fill="#000" opacity="0.021"/><rect x="437.0" y="164.6" width="1.3" height="381.0" fill="#fff" opacity="0.047"/><rect x="438.3" y="164.6" width="1.2" height="381.0" fill="#000" opacity="0.045"/><rect x="439.5" y="164.6" width="1.1" height="381.0" fill="#000" opacity="0.033"/><rect x="440.6" y="164.6" width="1.3" height="381.0" fill="#000" opacity="0.048"/><rect x="441.9" y="164.6" width="0.6" height="381.0" fill="#fff" opacity="0.023"/><rect x="442.6" y="164.6" width="0.9" height="381.0" fill="#000" opacity="0.054"/><rect x="443.5" y="164.6" width="1.1" height="381.0" fill="#000" opacity="0.044"/><rect x="444.6" y="164.6" width="0.8" height="381.0" fill="#fff" opacity="0.023"/><rect x="445.4" y="164.6" width="0.9" height="381.0" fill="#fff" opacity="0.029"/><rect x="446.3" y="164.6" width="0.5" height="381.0" fill="#000" opacity="0.042"/><rect x="446.9" y="164.6" width="0.7" height="381.0" fill="#fff" opacity="0.035"/><rect x="447.5" y="164.6" width="1.3" height="381.0" fill="#fff" opacity="0.046"/><rect x="448.8" y="164.6" width="0.8" height="381.0" fill="#000" opacity="0.038"/><rect x="449.6" y="164.6" width="1.1" height="381.0" fill="#fff" opacity="0.020"/><rect x="450.7" y="164.6" width="0.6" height="381.0" fill="#fff" opacity="0.047"/><rect x="451.3" y="164.6" width="0.9" height="381.0" fill="#fff" opacity="0.017"/><rect x="452.2" y="164.6" width="0.9" height="381.0" fill="#fff" opacity="0.040"/><rect x="453.2" y="164.6" width="0.6" height="381.0" fill="#000" opacity="0.041"/><rect x="453.8" y="164.6" width="1.2" height="381.0" fill="#000" opacity="0.010"/><rect x="455.0" y="164.6" width="0.6" height="381.0" fill="#fff" opacity="0.030"/><rect x="455.6" y="164.6" width="0.9" height="381.0" fill="#fff" opacity="0.041"/><rect x="456.4" y="164.6" width="0.7" height="381.0" fill="#fff" opacity="0.010"/><rect x="457.1" y="164.6" width="0.7" height="381.0" fill="#fff" opacity="0.019"/><rect x="457.9" y="164.6" width="0.5" height="381.0" fill="#000" opacity="0.026"/><rect x="458.4" y="164.6" width="1.3" height="381.0" fill="#000" opacity="0.050"/><rect x="459.7" y="164.6" width="0.8" height="381.0" fill="#fff" opacity="0.032"/><rect x="460.5" y="164.6" width="1.0" height="381.0" fill="#000" opacity="0.021"/><rect x="461.5" y="164.6" width="0.9" height="381.0" fill="#fff" opacity="0.027"/><rect x="462.4" y="164.6" width="0.7" height="381.0" fill="#000" opacity="0.015"/><rect x="463.0" y="164.6" width="0.8" height="381.0" fill="#fff" opacity="0.037"/><rect x="463.8" y="164.6" width="1.0" height="381.0" fill="#000" opacity="0.011"/><rect x="464.8" y="164.6" width="0.5" height="381.0" fill="#000" opacity="0.020"/><rect x="465.3" y="164.6" width="1.0" height="381.0" fill="#000" opacity="0.048"/><rect x="466.3" y="164.6" width="1.0" height="381.0" fill="#fff" opacity="0.047"/><rect x="467.2" y="164.6" width="0.9" height="381.0" fill="#000" opacity="0.025"/><rect x="468.2" y="164.6" width="0.6" height="381.0" fill="#fff" opacity="0.035"/><rect x="468.7" y="164.6" width="0.6" height="381.0" fill="#fff" opacity="0.039"/><rect x="469.3" y="164.6" width="1.0" height="381.0" fill="#000" opacity="0.016"/><rect x="470.3" y="164.6" width="1.3" height="381.0" fill="#000" opacity="0.028"/><rect x="471.6" y="164.6" width="1.3" height="381.0" fill="#000" opacity="0.035"/><rect x="472.9" y="164.6" width="0.9" height="381.0" fill="#000" opacity="0.056"/><rect x="473.8" y="164.6" width="0.8" height="381.0" fill="#000" opacity="0.034"/><rect x="474.6" y="164.6" width="0.5" height="381.0" fill="#fff" opacity="0.053"/><rect x="475.1" y="164.6" width="1.2" height="381.0" fill="#000" opacity="0.044"/><rect x="476.3" y="164.6" width="0.7" height="381.0" fill="#000" opacity="0.025"/><rect x="477.1" y="164.6" width="0.7" height="381.0" fill="#000" opacity="0.041"/><rect x="477.8" y="164.6" width="0.6" height="381.0" fill="#fff" opacity="0.012"/><rect x="478.4" y="164.6" width="1.3" height="381.0" fill="#000" opacity="0.014"/><rect x="479.7" y="164.6" width="1.1" height="381.0" fill="#000" opacity="0.048"/><rect x="480.8" y="164.6" width="0.9" height="381.0" fill="#fff" opacity="0.014"/><rect x="481.7" y="164.6" width="1.0" height="381.0" fill="#000" opacity="0.058"/><rect x="482.7" y="164.6" width="0.5" height="381.0" fill="#000" opacity="0.044"/><rect x="483.2" y="164.6" width="1.2" height="381.0" fill="#000" opacity="0.046"/><rect x="484.4" y="164.6" width="0.9" height="381.0" fill="#000" opacity="0.033"/><rect x="485.4" y="164.6" width="1.0" height="381.0" fill="#000" opacity="0.025"/><rect x="486.4" y="164.6" width="1.1" height="381.0" fill="#000" opacity="0.034"/><rect x="487.5" y="164.6" width="0.7" height="381.0" fill="#000" opacity="0.043"/><rect x="488.2" y="164.6" width="1.1" height="381.0" fill="#fff" opacity="0.034"/><rect x="489.3" y="164.6" width="0.7" height="381.0" fill="#000" opacity="0.013"/><rect x="489.9" y="164.6" width="0.7" height="381.0" fill="#fff" opacity="0.041"/><rect x="490.6" y="164.6" width="0.7" height="381.0" fill="#000" opacity="0.015"/><rect x="491.3" y="164.6" width="0.6" height="381.0" fill="#000" opacity="0.023"/><rect x="492.0" y="164.6" width="1.2" height="381.0" fill="#fff" opacity="0.027"/><rect x="493.2" y="164.6" width="0.8" height="381.0" fill="#000" opacity="0.047"/><rect x="494.0" y="164.6" width="1.1" height="381.0" fill="#000" opacity="0.046"/><rect x="495.1" y="164.6" width="0.7" height="381.0" fill="#000" opacity="0.021"/><rect x="495.8" y="164.6" width="0.7" height="381.0" fill="#fff" opacity="0.042"/><rect x="496.5" y="164.6" width="1.1" height="381.0" fill="#000" opacity="0.048"/><rect x="497.6" y="164.6" width="0.9" height="381.0" fill="#000" opacity="0.035"/><rect x="498.4" y="164.6" width="0.8" height="381.0" fill="#000" opacity="0.030"/><rect x="499.3" y="164.6" width="1.0" height="381.0" fill="#fff" opacity="0.056"/><rect x="500.3" y="164.6" width="0.7" height="381.0" fill="#fff" opacity="0.050"/><rect x="501.0" y="164.6" width="1.1" height="381.0" fill="#fff" opacity="0.017"/><rect x="502.0" y="164.6" width="1.1" height="381.0" fill="#fff" opacity="0.016"/><rect x="503.2" y="164.6" width="1.0" height="381.0" fill="#fff" opacity="0.025"/><rect x="504.1" y="164.6" width="1.2" height="381.0" fill="#fff" opacity="0.032"/><rect x="505.3" y="164.6" width="0.6" height="381.0" fill="#000" opacity="0.051"/><rect x="505.9" y="164.6" width="0.8" height="381.0" fill="#000" opacity="0.032"/><rect x="506.8" y="164.6" width="1.2" height="381.0" fill="#000" opacity="0.011"/><rect x="508.0" y="164.6" width="1.3" height="381.0" fill="#000" opacity="0.029"/><rect x="509.3" y="164.6" width="1.3" height="381.0" fill="#000" opacity="0.014"/><rect x="510.6" y="164.6" width="1.2" height="381.0" fill="#000" opacity="0.021"/><rect x="511.8" y="164.6" width="1.3" height="381.0" fill="#000" opacity="0.055"/><rect x="513.0" y="164.6" width="0.8" height="381.0" fill="#000" opacity="0.021"/><rect x="513.8" y="164.6" width="0.9" height="381.0" fill="#fff" opacity="0.030"/><rect x="514.7" y="164.6" width="0.9" height="381.0" fill="#000" opacity="0.052"/><rect x="515.6" y="164.6" width="1.2" height="381.0" fill="#fff" opacity="0.051"/><rect x="516.9" y="164.6" width="0.6" height="381.0" fill="#000" opacity="0.020"/><rect x="517.4" y="164.6" width="0.6" height="381.0" fill="#fff" opacity="0.055"/><rect x="518.0" y="164.6" width="1.2" height="381.0" fill="#fff" opacity="0.016"/><rect x="519.3" y="164.6" width="0.8" height="381.0" fill="#000" opacity="0.055"/><rect x="520.1" y="164.6" width="0.7" height="381.0" fill="#000" opacity="0.057"/><rect x="520.8" y="164.6" width="0.7" height="381.0" fill="#fff" opacity="0.026"/><rect x="521.5" y="164.6" width="1.0" height="381.0" fill="#000" opacity="0.055"/><rect x="522.5" y="164.6" width="0.8" height="381.0" fill="#000" opacity="0.043"/><rect x="523.3" y="164.6" width="1.0" height="381.0" fill="#000" opacity="0.016"/><rect x="524.3" y="164.6" width="1.0" height="381.0" fill="#000" opacity="0.054"/><rect x="525.3" y="164.6" width="0.8" height="381.0" fill="#000" opacity="0.026"/><rect x="526.1" y="164.6" width="0.6" height="381.0" fill="#000" opacity="0.037"/><rect x="526.6" y="164.6" width="0.8" height="381.0" fill="#000" opacity="0.025"/><rect x="527.5" y="164.6" width="0.9" height="381.0" fill="#fff" opacity="0.032"/><rect x="528.4" y="164.6" width="1.1" height="381.0" fill="#000" opacity="0.016"/><rect x="529.5" y="164.6" width="0.6" height="381.0" fill="#fff" opacity="0.034"/><rect x="530.1" y="164.6" width="0.8" height="381.0" fill="#000" opacity="0.052"/><rect x="530.9" y="164.6" width="0.8" height="381.0" fill="#000" opacity="0.028"/><rect x="531.7" y="164.6" width="0.5" height="381.0" fill="#000" opacity="0.034"/><rect x="532.2" y="164.6" width="0.9" height="381.0" fill="#000" opacity="0.034"/><rect x="533.1" y="164.6" width="1.1" height="381.0" fill="#000" opacity="0.059"/><rect x="534.2" y="164.6" width="0.6" height="381.0" fill="#fff" opacity="0.019"/><rect x="534.8" y="164.6" width="1.1" height="381.0" fill="#000" opacity="0.014"/><rect x="535.9" y="164.6" width="0.9" height="381.0" fill="#fff" opacity="0.052"/><rect x="536.9" y="164.6" width="1.2" height="381.0" fill="#fff" opacity="0.013"/><rect x="538.1" y="164.6" width="0.8" height="381.0" fill="#000" opacity="0.048"/><rect x="538.9" y="164.6" width="0.9" height="381.0" fill="#fff" opacity="0.050"/><rect x="539.7" y="164.6" width="1.3" height="381.0" fill="#fff" opacity="0.054"/><rect x="541.0" y="164.6" width="0.9" height="381.0" fill="#000" opacity="0.055"/><rect x="542.0" y="164.6" width="0.6" height="381.0" fill="#000" opacity="0.052"/><rect x="542.5" y="164.6" width="0.7" height="381.0" fill="#fff" opacity="0.011"/><rect x="543.3" y="164.6" width="0.7" height="381.0" fill="#fff" opacity="0.012"/><rect x="543.9" y="164.6" width="0.9" height="381.0" fill="#fff" opacity="0.021"/><rect x="544.8" y="164.6" width="1.1" height="381.0" fill="#fff" opacity="0.041"/><rect x="545.9" y="164.6" width="1.1" height="381.0" fill="#fff" opacity="0.011"/><rect x="547.0" y="164.6" width="0.7" height="381.0" fill="#000" opacity="0.058"/><rect x="547.7" y="164.6" width="0.7" height="381.0" fill="#fff" opacity="0.016"/><rect x="548.3" y="164.6" width="1.2" height="381.0" fill="#000" opacity="0.036"/><rect x="549.5" y="164.6" width="1.0" height="381.0" fill="#000" opacity="0.046"/><rect x="550.5" y="164.6" width="1.1" height="381.0" fill="#fff" opacity="0.024"/><rect x="551.7" y="164.6" width="0.7" height="381.0" fill="#000" opacity="0.055"/><rect x="552.4" y="164.6" width="0.9" height="381.0" fill="#000" opacity="0.036"/><rect x="553.2" y="164.6" width="1.1" height="381.0" fill="#000" opacity="0.027"/><rect x="554.3" y="164.6" width="1.1" height="381.0" fill="#fff" opacity="0.025"/><rect x="555.4" y="164.6" width="0.6" height="381.0" fill="#fff" opacity="0.046"/><rect x="556.0" y="164.6" width="1.0" height="381.0" fill="#000" opacity="0.058"/><rect x="556.9" y="164.6" width="0.8" height="381.0" fill="#000" opacity="0.015"/><rect x="557.8" y="164.6" width="0.8" height="381.0" fill="#fff" opacity="0.028"/><rect x="558.6" y="164.6" width="1.3" height="381.0" fill="#fff" opacity="0.033"/><rect x="559.8" y="164.6" width="1.0" height="381.0" fill="#fff" opacity="0.041"/><rect x="560.8" y="164.6" width="0.9" height="381.0" fill="#000" opacity="0.035"/><rect x="561.7" y="164.6" width="1.2" height="381.0" fill="#000" opacity="0.049"/><rect x="562.9" y="164.6" width="0.7" height="381.0" fill="#fff" opacity="0.014"/><rect x="563.6" y="164.6" width="0.9" height="381.0" fill="#000" opacity="0.046"/><rect x="564.5" y="164.6" width="0.7" height="381.0" fill="#000" opacity="0.017"/><rect x="565.2" y="164.6" width="0.9" height="381.0" fill="#fff" opacity="0.010"/><rect x="566.1" y="164.6" width="0.6" height="381.0" fill="#000" opacity="0.058"/><rect x="566.8" y="164.6" width="0.9" height="381.0" fill="#fff" opacity="0.024"/><rect x="567.6" y="164.6" width="1.0" height="381.0" fill="#fff" opacity="0.044"/><rect x="568.7" y="164.6" width="0.5" height="381.0" fill="#000" opacity="0.034"/><rect x="569.2" y="164.6" width="0.5" height="381.0" fill="#fff" opacity="0.026"/><rect x="569.7" y="164.6" width="0.7" height="381.0" fill="#fff" opacity="0.039"/><rect x="570.4" y="164.6" width="0.9" height="381.0" fill="#fff" opacity="0.036"/><rect x="571.3" y="164.6" width="0.8" height="381.0" fill="#000" opacity="0.038"/><rect x="572.1" y="164.6" width="0.8" height="381.0" fill="#000" opacity="0.027"/><rect x="572.9" y="164.6" width="0.5" height="381.0" fill="#000" opacity="0.018"/><rect x="573.4" y="164.6" width="0.6" height="381.0" fill="#fff" opacity="0.039"/><rect x="574.0" y="164.6" width="0.7" height="381.0" fill="#fff" opacity="0.042"/><rect x="574.7" y="164.6" width="0.5" height="381.0" fill="#fff" opacity="0.021"/><rect x="575.2" y="164.6" width="1.3" height="381.0" fill="#000" opacity="0.024"/><rect x="576.5" y="164.6" width="0.7" height="381.0" fill="#fff" opacity="0.051"/><rect x="577.2" y="164.6" width="1.0" height="381.0" fill="#000" opacity="0.031"/><rect x="578.2" y="164.6" width="1.1" height="381.0" fill="#000" opacity="0.056"/><rect x="579.3" y="164.6" width="1.2" height="381.0" fill="#fff" opacity="0.045"/><rect x="580.4" y="164.6" width="1.0" height="381.0" fill="#fff" opacity="0.023"/><rect x="581.4" y="164.6" width="0.7" height="381.0" fill="#000" opacity="0.019"/><rect x="582.2" y="164.6" width="1.1" height="381.0" fill="#000" opacity="0.047"/><rect x="583.3" y="164.6" width="0.8" height="381.0" fill="#fff" opacity="0.048"/><rect x="584.1" y="164.6" width="1.0" height="381.0" fill="#fff" opacity="0.012"/><rect x="585.2" y="164.6" width="0.7" height="381.0" fill="#000" opacity="0.031"/><rect x="585.9" y="164.6" width="1.0" height="381.0" fill="#fff" opacity="0.047"/><rect x="586.9" y="164.6" width="1.2" height="381.0" fill="#fff" opacity="0.028"/><rect x="588.2" y="164.6" width="0.9" height="381.0" fill="#fff" opacity="0.051"/><rect x="589.1" y="164.6" width="0.8" height="381.0" fill="#000" opacity="0.041"/><rect x="589.9" y="164.6" width="0.7" height="381.0" fill="#fff" opacity="0.010"/><rect x="590.5" y="164.6" width="1.0" height="381.0" fill="#000" opacity="0.020"/><rect x="591.6" y="164.6" width="1.0" height="381.0" fill="#000" opacity="0.058"/><rect x="592.5" y="164.6" width="1.2" height="381.0" fill="#fff" opacity="0.054"/><rect x="593.7" y="164.6" width="1.2" height="381.0" fill="#000" opacity="0.051"/><rect x="594.9" y="164.6" width="1.2" height="381.0" fill="#fff" opacity="0.048"/><rect x="596.1" y="164.6" width="0.8" height="381.0" fill="#000" opacity="0.043"/><rect x="596.9" y="164.6" width="0.7" height="381.0" fill="#fff" opacity="0.039"/><rect x="597.6" y="164.6" width="1.2" height="381.0" fill="#000" opacity="0.025"/><rect x="598.7" y="164.6" width="1.2" height="381.0" fill="#fff" opacity="0.029"/><rect x="600.0" y="164.6" width="0.9" height="381.0" fill="#000" opacity="0.042"/><rect x="600.9" y="164.6" width="0.9" height="381.0" fill="#000" opacity="0.059"/><rect x="601.8" y="164.6" width="1.2" height="381.0" fill="#fff" opacity="0.024"/><rect x="603.0" y="164.6" width="0.7" height="381.0" fill="#fff" opacity="0.051"/><rect x="603.7" y="164.6" width="1.0" height="381.0" fill="#000" opacity="0.046"/><rect x="604.7" y="164.6" width="0.9" height="381.0" fill="#000" opacity="0.039"/><rect x="605.6" y="164.6" width="0.9" height="381.0" fill="#fff" opacity="0.048"/><rect x="606.5" y="164.6" width="1.3" height="381.0" fill="#000" opacity="0.039"/><rect x="607.8" y="164.6" width="1.3" height="381.0" fill="#fff" opacity="0.039"/><rect x="609.0" y="164.6" width="1.2" height="381.0" fill="#000" opacity="0.050"/><rect x="610.2" y="164.6" width="1.0" height="381.0" fill="#fff" opacity="0.026"/><rect x="611.2" y="164.6" width="1.0" height="381.0" fill="#000" opacity="0.036"/><rect x="612.2" y="164.6" width="0.7" height="381.0" fill="#fff" opacity="0.050"/><rect x="612.9" y="164.6" width="0.9" height="381.0" fill="#fff" opacity="0.029"/><rect x="613.8" y="164.6" width="0.9" height="381.0" fill="#000" opacity="0.053"/><rect x="614.7" y="164.6" width="1.1" height="381.0" fill="#fff" opacity="0.014"/><rect x="615.8" y="164.6" width="1.2" height="381.0" fill="#000" opacity="0.038"/><rect x="617.0" y="164.6" width="0.9" height="381.0" fill="#000" opacity="0.031"/><rect x="617.9" y="164.6" width="1.2" height="381.0" fill="#fff" opacity="0.026"/><rect x="619.1" y="164.6" width="1.2" height="381.0" fill="#000" opacity="0.055"/><rect x="620.2" y="164.6" width="0.8" height="381.0" fill="#000" opacity="0.059"/><rect x="621.1" y="164.6" width="0.6" height="381.0" fill="#000" opacity="0.049"/><rect x="621.6" y="164.6" width="0.6" height="381.0" fill="#000" opacity="0.053"/><rect x="622.2" y="164.6" width="1.0" height="381.0" fill="#000" opacity="0.048"/><rect x="623.2" y="164.6" width="1.2" height="381.0" fill="#fff" opacity="0.041"/><rect x="624.3" y="164.6" width="0.8" height="381.0" fill="#000" opacity="0.060"/><rect x="625.1" y="164.6" width="1.3" height="381.0" fill="#000" opacity="0.020"/><rect x="626.4" y="164.6" width="0.7" height="381.0" fill="#fff" opacity="0.020"/><rect x="627.1" y="164.6" width="0.6" height="381.0" fill="#fff" opacity="0.018"/><rect x="627.7" y="164.6" width="1.3" height="381.0" fill="#000" opacity="0.055"/><rect x="629.0" y="164.6" width="1.2" height="381.0" fill="#000" opacity="0.049"/><rect x="630.1" y="164.6" width="0.8" height="381.0" fill="#000" opacity="0.012"/><rect x="631.0" y="164.6" width="1.1" height="381.0" fill="#fff" opacity="0.025"/><rect x="632.0" y="164.6" width="1.2" height="381.0" fill="#000" opacity="0.032"/><rect x="633.2" y="164.6" width="0.6" height="381.0" fill="#000" opacity="0.054"/><rect x="633.8" y="164.6" width="0.9" height="381.0" fill="#000" opacity="0.022"/><rect x="634.7" y="164.6" width="1.0" height="381.0" fill="#000" opacity="0.054"/><rect x="635.7" y="164.6" width="0.5" height="381.0" fill="#fff" opacity="0.041"/><rect x="636.2" y="164.6" width="1.2" height="381.0" fill="#000" opacity="0.013"/></g>
<defs><linearGradient id="gA" gradientUnits="userSpaceOnUse" x1="0" y1="0" x2="0" y2="595"><stop offset="0.4975" stop-color="#3c3c3c" stop-opacity="0.00"/><stop offset="0.5092" stop-color="#3c3c3c" stop-opacity="0.15"/><stop offset="0.5345" stop-color="#3c3c3c" stop-opacity="0.45"/><stop offset="0.5714" stop-color="#3c3c3c" stop-opacity="0.65"/><stop offset="0.6050" stop-color="#3c3c3c" stop-opacity="0.75"/><stop offset="0.7395" stop-color="#3c3c3c" stop-opacity="0.80"/><stop offset="0.7983" stop-color="#3c3c3c" stop-opacity="0.60"/><stop offset="0.8269" stop-color="#3c3c3c" stop-opacity="0.00"/></linearGradient><linearGradient id="gA2" gradientUnits="userSpaceOnUse" x1="0" y1="0" x2="0" y2="595"><stop offset="0.4975" stop-color="#8c8c8c" stop-opacity="0.00"/><stop offset="0.5126" stop-color="#8c8c8c" stop-opacity="0.15"/><stop offset="0.5714" stop-color="#8c8c8c" stop-opacity="0.45"/><stop offset="0.7059" stop-color="#8c8c8c" stop-opacity="0.50"/><stop offset="0.7899" stop-color="#8c8c8c" stop-opacity="0.30"/><stop offset="0.8235" stop-color="#8c8c8c" stop-opacity="0.00"/></linearGradient><linearGradient id="gB" gradientUnits="userSpaceOnUse" x1="0" y1="0" x2="0" y2="595"><stop offset="0.4403" stop-color="#555555" stop-opacity="0.00"/><stop offset="0.4706" stop-color="#555555" stop-opacity="0.30"/><stop offset="0.5546" stop-color="#555555" stop-opacity="0.45"/><stop offset="0.6050" stop-color="#555555" stop-opacity="0.50"/><stop offset="0.7395" stop-color="#555555" stop-opacity="0.45"/><stop offset="0.8370" stop-color="#555555" stop-opacity="0.00"/></linearGradient></defs>
<g><path d="M92.00 161.60 L92.35 230.50 L92.69 295.60 L93.00 355.70 L92.69 414.40 L92.35 480.60 L92.00 548.60 L96.90 548.60 L96.90 480.60 L96.90 414.40 L96.90 355.70 L96.90 295.60 L96.90 230.50 L96.90 161.60Z" fill="#858585"/><path d="M92.00 161.60 L92.35 230.50 L92.69 295.60 L93.00 355.70 L92.69 414.40 L92.35 480.60 L92.00 548.60 L93.40 548.60 L93.61 480.60 L93.82 414.40 L94.00 355.70 L93.82 295.60 L93.61 230.50 L93.40 161.60Z" fill="#505050"/><path d="M84.30 161.60 L84.65 230.50 L84.99 295.60 L85.30 355.70 L84.99 414.40 L84.65 480.60 L84.30 548.60 L92.60 548.60 L92.84 480.60 L93.09 414.40 L93.30 355.70 L93.09 295.60 L92.84 230.50 L92.60 161.60Z" fill="#2a2a2a"/><path d="M158.50 161.60 L159.54 230.50 L160.58 295.60 L161.50 355.70 L160.58 414.40 L159.54 480.60 L158.50 548.60 L163.50 548.60 L164.02 480.60 L164.54 414.40 L165.00 355.70 L164.54 295.60 L164.02 230.50 L163.50 161.60Z" fill="#a8a8a8"/><path d="M150.00 161.60 L150.69 230.50 L151.39 295.60 L152.00 355.70 L151.39 414.40 L150.69 480.60 L150.00 548.60 L153.00 548.60 L154.22 480.60 L155.43 414.40 L156.50 355.70 L155.43 295.60 L154.22 230.50 L153.00 161.60Z" fill="#9a9a9a"/><path d="M141.70 161.60 L142.22 230.50 L142.74 295.60 L143.20 355.70 L142.74 414.40 L142.22 480.60 L141.70 548.60 L150.80 548.60 L151.39 480.60 L151.98 414.40 L152.50 355.70 L151.98 295.60 L151.39 230.50 L150.80 161.60Z" fill="#2e2e2e"/><path d="M152.20 161.60 L153.52 230.50 L154.84 295.60 L156.00 355.70 L154.84 414.40 L153.52 480.60 L152.20 548.60 L159.20 548.60 L160.31 480.60 L161.42 414.40 L162.40 355.70 L161.42 295.60 L160.31 230.50 L159.20 161.60Z" fill="#333333"/><path d="M145.50 161.60 L145.85 230.50 L146.19 295.60 L146.50 355.70 L146.19 414.40 L145.85 480.60 L145.50 548.60 L147.00 548.60 L147.87 480.60 L148.74 414.40 L149.50 355.70 L148.74 295.60 L147.87 230.50 L147.00 161.60Z" fill="#3a3a3a"/><path d="M284.00 161.60 L284.52 230.50 L285.04 295.60 L285.50 355.70 L285.04 414.40 L284.52 480.60 L284.00 548.60 L287.00 548.60 L287.49 480.60 L287.97 414.40 L288.40 355.70 L287.97 295.60 L287.49 230.50 L287.00 161.60Z" fill="#555555"/><path d="M280.00 161.60 L280.56 230.50 L281.11 295.60 L281.60 355.70 L281.11 414.40 L280.56 480.60 L280.00 548.60 L284.60 548.60 L285.29 480.60 L285.99 414.40 L286.60 355.70 L285.99 295.60 L285.29 230.50 L284.60 161.60Z" fill="#333333"/><path d="M289.00 161.60 L289.69 230.50 L290.39 295.60 L291.00 355.70 L290.39 414.40 L289.69 480.60 L289.00 548.60 L300.00 548.60 L301.39 480.60 L302.78 414.40 L304.00 355.70 L302.78 295.60 L301.39 230.50 L300.00 161.60Z" fill="#b3b3b3"/><path d="M303.80 161.60 L304.53 230.50 L305.26 295.60 L305.90 355.70 L305.26 414.40 L304.53 480.60 L303.80 548.60 L306.50 548.60 L306.67 480.60 L306.85 414.40 L307.00 355.70 L306.85 295.60 L306.67 230.50 L306.50 161.60Z" fill="#8a8a8a"/><path d="M304.90 161.60 L305.90 230.50 L306.90 295.60 L307.20 355.70 L306.90 414.40 L305.90 480.60 L304.90 548.60 L308.10 548.60 L309.10 480.60 L310.10 414.40 L310.40 355.70 L310.10 295.60 L309.10 230.50 L308.10 161.60Z" fill="#7a7a7a" opacity="1.00"/><path d="M300.50 161.60 L301.50 230.50 L302.30 295.60 L302.60 355.70 L302.30 414.40 L301.50 480.60 L300.50 548.60 L304.10 548.60 L304.80 480.60 L305.60 414.40 L305.90 355.70 L305.60 295.60 L304.80 230.50 L304.10 161.60Z" fill="#6c6c6c"/><path d="M306.50 161.60 L307.37 230.50 L308.24 295.60 L309.00 355.70 L308.24 414.40 L307.37 480.60 L306.50 548.60 L311.50 548.60 L312.02 480.60 L312.54 414.40 L313.00 355.70 L312.54 295.60 L312.02 230.50 L311.50 161.60Z" fill="#a5a5a5"/><path d="M316.00 161.60 L316.69 230.50 L317.39 295.60 L318.00 355.70 L317.39 414.40 L316.69 480.60 L316.00 548.60 L318.50 548.60 L319.19 480.60 L319.89 414.40 L320.50 355.70 L319.89 295.60 L319.19 230.50 L318.50 161.60Z" fill="#777777"/><path d="M312.30 161.60 L312.89 230.50 L313.48 295.60 L314.00 355.70 L313.48 414.40 L312.89 480.60 L312.30 548.60 L316.50 548.60 L317.26 480.60 L318.03 414.40 L318.70 355.70 L318.03 295.60 L317.26 230.50 L316.50 161.60Z" fill="#333333"/><path d="M381.00 161.60 L386.00 230.50 L391.00 295.60 L392.50 355.70 L391.00 414.40 L386.00 480.60 L381.00 548.60 L388.00 548.60 L391.50 480.60 L395.00 414.40 L396.50 355.70 L395.00 295.60 L391.50 230.50 L388.00 161.60Z" fill="#a4a4a4"/><path d="M384.50 161.60 L387.50 230.50 L392.50 295.60 L394.50 355.70 L392.50 414.40 L387.50 480.60 L384.50 548.60 L387.00 548.60 L390.00 480.60 L395.00 414.40 L397.00 355.70 L395.00 295.60 L390.00 230.50 L387.00 161.60Z" fill="#949494"/><path d="M374.60 161.60 L380.00 230.50 L386.80 295.60 L389.50 355.70 L386.80 414.40 L380.00 480.60 L374.60 548.60 L381.30 548.60 L386.00 480.60 L392.30 414.40 L394.30 355.70 L392.30 295.60 L386.00 230.50 L381.30 161.60Z" fill="#7a7a7a"/><path d="M376.50 161.60 L381.50 230.50 L388.30 295.60 L390.50 355.70 L388.30 414.40 L381.50 480.60 L376.50 548.60 L379.50 548.60 L384.50 480.60 L391.30 414.40 L393.50 355.70 L391.30 295.60 L384.50 230.50 L379.50 161.60Z" fill="#4a4a4a" opacity="1.00"/><path d="M398.50 161.60 L399.50 230.50 L402.00 295.60 L403.50 355.70 L402.00 414.40 L399.50 480.60 L398.50 548.60 L403.50 548.60 L403.00 480.60 L403.50 414.40 L405.00 355.70 L403.50 295.60 L403.00 230.50 L403.50 161.60Z" fill="#7a7a7a"/><path d="M395.10 161.60 L395.60 230.50 L398.10 295.60 L398.70 355.70 L398.10 414.40 L395.60 480.60 L395.10 548.60 L398.70 548.60 L399.70 480.60 L402.20 414.40 L403.80 355.70 L402.20 295.60 L399.70 230.50 L398.70 161.60Z" fill="#333333"/><path d="M403.80 161.60 L403.30 230.50 L404.00 295.60 L404.80 355.70 L404.00 414.40 L403.30 480.60 L403.80 548.60 L408.60 548.60 L408.50 480.60 L410.50 414.40 L410.90 355.70 L410.50 295.60 L408.50 230.50 L408.60 161.60Z" fill="#383838"/><path d="M408.60 161.60 L409.40 230.50 L410.20 295.60 L410.90 355.70 L410.20 414.40 L409.40 480.60 L408.60 548.60 L418.00 548.60 L418.69 480.60 L419.39 414.40 L420.00 355.70 L419.39 295.60 L418.69 230.50 L418.00 161.60Z" fill="#a8a8a8"/><path d="M412.00 161.60 L412.69 230.50 L413.39 295.60 L414.00 355.70 L413.39 414.40 L412.69 480.60 L412.00 548.60 L415.00 548.60 L415.69 480.60 L416.39 414.40 L417.00 355.70 L416.39 295.60 L415.69 230.50 L415.00 161.60Z" fill="#9a9a9a"/><path d="M426.80 161.60 L427.32 230.50 L427.84 295.60 L428.30 355.70 L427.84 414.40 L427.32 480.60 L426.80 548.60 L430.60 548.60 L431.05 480.60 L431.50 414.40 L431.90 355.70 L431.50 295.60 L431.05 230.50 L430.60 161.60Z" fill="#8c8c8c"/><path d="M427.10 161.60 L427.73 230.50 L428.35 295.60 L428.90 355.70 L428.35 414.40 L427.73 480.60 L427.10 548.60 L428.90 548.60 L429.52 480.60 L430.15 414.40 L430.70 355.70 L430.15 295.60 L429.52 230.50 L428.90 161.60Z" fill="#666666" opacity="1.00"/><path d="M467.60 161.60 L468.50 230.50 L471.00 295.60 L472.80 355.70 L471.00 414.40 L468.50 480.60 L467.60 548.60 L480.20 548.60 L481.50 480.60 L484.00 414.40 L485.20 355.70 L484.00 295.60 L481.50 230.50 L480.20 161.60Z" fill="#2a2a2a"/><path d="M471.60 161.60 L473.13 230.50 L474.66 295.60 L476.00 355.70 L474.66 414.40 L473.13 480.60 L471.60 548.60 L474.50 548.60 L475.89 480.60 L477.28 414.40 L478.50 355.70 L477.28 295.60 L475.89 230.50 L474.50 161.60Z" fill="#4a4a4a"/><path d="M480.20 161.60 L481.94 230.50 L483.67 295.60 L485.20 355.70 L483.67 414.40 L481.94 480.60 L480.20 548.60 L483.40 548.60 L485.03 480.60 L486.66 414.40 L488.10 355.70 L486.66 295.60 L485.03 230.50 L483.40 161.60Z" fill="#8a8a8a"/><path d="M483.60 161.60 L485.16 230.50 L486.73 295.60 L488.10 355.70 L486.73 414.40 L485.16 480.60 L483.60 548.60 L487.20 548.60 L488.48 480.60 L489.77 414.40 L490.90 355.70 L489.77 295.60 L488.48 230.50 L487.20 161.60Z" fill="#363636"/><path d="M487.20 161.60 L488.48 230.50 L489.77 295.60 L490.90 355.70 L489.77 414.40 L488.48 480.60 L487.20 548.60 L491.50 548.60 L492.19 480.60 L492.89 414.40 L493.50 355.70 L492.89 295.60 L492.19 230.50 L491.50 161.60Z" fill="#6a6a6a"/><path d="M491.50 161.60 L492.19 230.50 L492.89 295.60 L493.50 355.70 L492.89 414.40 L492.19 480.60 L491.50 548.60 L495.30 548.60 L495.47 480.60 L495.65 414.40 L495.80 355.70 L495.65 295.60 L495.47 230.50 L495.30 161.60Z" fill="#7c7c7c"/><path d="M495.30 161.60 L495.47 230.50 L495.65 295.60 L495.80 355.70 L495.65 414.40 L495.47 480.60 L495.30 548.60 L499.20 548.60 L499.27 480.60 L499.34 414.40 L499.40 355.70 L499.34 295.60 L499.27 230.50 L499.20 161.60Z" fill="#979797"/><path d="M499.20 161.60 L499.27 230.50 L499.34 295.60 L499.40 355.70 L499.34 414.40 L499.27 480.60 L499.20 548.60 L502.40 548.60 L502.40 480.60 L502.40 414.40 L502.40 355.70 L502.40 295.60 L502.40 230.50 L502.40 161.60Z" fill="#999999"/><path d="M568.50 161.60 L569.72 230.50 L570.93 295.60 L572.00 355.70 L570.93 414.40 L569.72 480.60 L568.50 548.60 L573.00 548.60 L573.00 480.60 L573.00 414.40 L573.00 355.70 L573.00 295.60 L573.00 230.50 L573.00 161.60Z" fill="#888888"/><path d="M563.40 161.60 L564.65 230.50 L565.90 295.60 L567.00 355.70 L565.90 414.40 L564.65 480.60 L563.40 548.60 L569.00 548.60 L570.04 480.60 L571.08 414.40 L572.00 355.70 L571.08 295.60 L570.04 230.50 L569.00 161.60Z" fill="#676767"/><path d="M560.00 161.60 L562.50 230.50 L565.50 295.60 L566.90 355.70 L565.50 414.40 L562.50 480.60 L560.00 548.60 L563.40 548.60 L566.80 480.60 L571.00 414.40 L572.40 355.70 L571.00 295.60 L566.80 230.50 L563.40 161.60Z" fill="#333333"/><path d="M573.50 161.60 L573.60 230.50 L573.71 295.60 L573.80 355.70 L573.71 414.40 L573.60 480.60 L573.50 548.60 L575.00 548.60 L575.35 480.60 L575.69 414.40 L576.00 355.70 L575.69 295.60 L575.35 230.50 L575.00 161.60Z" fill="#8a8a8a"/><path d="M381.00 161.60 L386.20 230.50 L391.80 295.60 L393.80 355.70 L391.80 414.40 L386.20 480.60 L381.00 548.60 L382.60 548.60 L387.80 480.60 L393.40 414.40 L395.40 355.70 L393.40 295.60 L387.80 230.50 L382.60 161.60Z" fill="#8e8e8e" opacity="1.00"/><path d="M389.00 161.60 L391.00 230.50 L395.00 295.60 L396.40 355.70 L395.00 414.40 L391.00 480.60 L389.00 548.60 L390.60 548.60 L392.60 480.60 L396.60 414.40 L398.00 355.70 L396.60 295.60 L392.60 230.50 L390.60 161.60Z" fill="#9a9a9a" opacity="1.00"/><path d="M412.90 161.60 L414.05 230.50 L415.19 295.60 L416.20 355.70 L415.19 414.40 L414.05 480.60 L412.90 548.60 L414.50 548.60 L415.65 480.60 L416.79 414.40 L417.80 355.70 L416.79 295.60 L415.65 230.50 L414.50 161.60Z" fill="#a0a0a0" opacity="1.00"/><path d="M418.85 161.60 L419.89 230.50 L420.93 295.60 L421.85 355.70 L420.93 414.40 L419.89 480.60 L418.85 548.60 L420.15 548.60 L421.19 480.60 L422.23 414.40 L423.15 355.70 L422.23 295.60 L421.19 230.50 L420.15 161.60Z" fill="#a6a6a6" opacity="1.00"/><path d="M306.55 161.60 L307.85 230.50 L309.35 295.60 L310.15 355.70 L309.35 414.40 L307.85 480.60 L306.55 548.60 L307.85 548.60 L309.15 480.60 L310.65 414.40 L311.45 355.70 L310.65 295.60 L309.15 230.50 L307.85 161.60Z" fill="#a2a2a2" opacity="1.00"/><path d="M294.35 161.60 L295.04 230.50 L295.74 295.60 L296.35 355.70 L295.74 414.40 L295.04 480.60 L294.35 548.60 L295.65 548.60 L296.34 480.60 L297.04 414.40 L297.65 355.70 L297.04 295.60 L296.34 230.50 L295.65 161.60Z" fill="#a8a8a8" opacity="1.00"/><path d="M287.95 161.60 L288.51 230.50 L289.06 295.60 L289.55 355.70 L289.06 414.40 L288.51 480.60 L287.95 548.60 L289.25 548.60 L289.81 480.60 L290.36 414.40 L290.85 355.70 L290.36 295.60 L289.81 230.50 L289.25 161.60Z" fill="#9e9e9e" opacity="1.00"/><path d="M504.85 161.60 L505.37 230.50 L505.89 295.60 L506.35 355.70 L505.89 414.40 L505.37 480.60 L504.85 548.60 L506.15 548.60 L506.67 480.60 L507.19 414.40 L507.65 355.70 L507.19 295.60 L506.67 230.50 L506.15 161.60Z" fill="#a5a5a5" opacity="1.00"/><path d="M510.35 161.60 L510.87 230.50 L511.39 295.60 L511.85 355.70 L511.39 414.40 L510.87 480.60 L510.35 548.60 L511.65 548.60 L512.17 480.60 L512.69 414.40 L513.15 355.70 L512.69 295.60 L512.17 230.50 L511.65 161.60Z" fill="#a8a8a8" opacity="1.00"/><path d="M554.85 161.60 L555.89 230.50 L556.93 295.60 L557.85 355.70 L556.93 414.40 L555.89 480.60 L554.85 548.60 L556.15 548.60 L557.19 480.60 L558.23 414.40 L559.15 355.70 L558.23 295.60 L557.19 230.50 L556.15 161.60Z" fill="#a2a2a2" opacity="1.00"/><path d="M136.35 161.60 L136.87 230.50 L137.39 295.60 L137.85 355.70 L137.39 414.40 L136.87 480.60 L136.35 548.60 L137.65 548.60 L138.17 480.60 L138.69 414.40 L139.15 355.70 L138.69 295.60 L138.17 230.50 L137.65 161.60Z" fill="#a8a8a8" opacity="1.00"/><path d="M79.85 161.60 L80.20 230.50 L80.54 295.60 L80.85 355.70 L80.54 414.40 L80.20 480.60 L79.85 548.60 L81.15 548.60 L81.50 480.60 L81.84 414.40 L82.15 355.70 L81.84 295.60 L81.50 230.50 L81.15 161.60Z" fill="#a6a6a6" opacity="1.00"/><path d="M108.50 294.00 L116.50 294.00 L117.00 355.70 L115.00 490.00 L109.50 490.00 L108.50 355.70Z" fill="url(#gA2)"/></g>
<g filter="url(#bb)" opacity="0.6"><path d="M92.00 161.60 L92.35 230.50 L92.69 295.60 L93.00 355.70 L92.69 414.40 L92.35 480.60 L92.00 548.60 L96.90 548.60 L96.90 480.60 L96.90 414.40 L96.90 355.70 L96.90 295.60 L96.90 230.50 L96.90 161.60Z" fill="#858585"/><path d="M92.00 161.60 L92.35 230.50 L92.69 295.60 L93.00 355.70 L92.69 414.40 L92.35 480.60 L92.00 548.60 L93.40 548.60 L93.61 480.60 L93.82 414.40 L94.00 355.70 L93.82 295.60 L93.61 230.50 L93.40 161.60Z" fill="#505050"/><path d="M84.30 161.60 L84.65 230.50 L84.99 295.60 L85.30 355.70 L84.99 414.40 L84.65 480.60 L84.30 548.60 L92.60 548.60 L92.84 480.60 L93.09 414.40 L93.30 355.70 L93.09 295.60 L92.84 230.50 L92.60 161.60Z" fill="#2a2a2a"/><path d="M158.50 161.60 L159.54 230.50 L160.58 295.60 L161.50 355.70 L160.58 414.40 L159.54 480.60 L158.50 548.60 L163.50 548.60 L164.02 480.60 L164.54 414.40 L165.00 355.70 L164.54 295.60 L164.02 230.50 L163.50 161.60Z" fill="#a8a8a8"/><path d="M150.00 161.60 L150.69 230.50 L151.39 295.60 L152.00 355.70 L151.39 414.40 L150.69 480.60 L150.00 548.60 L153.00 548.60 L154.22 480.60 L155.43 414.40 L156.50 355.70 L155.43 295.60 L154.22 230.50 L153.00 161.60Z" fill="#9a9a9a"/><path d="M141.70 161.60 L142.22 230.50 L142.74 295.60 L143.20 355.70 L142.74 414.40 L142.22 480.60 L141.70 548.60 L150.80 548.60 L151.39 480.60 L151.98 414.40 L152.50 355.70 L151.98 295.60 L151.39 230.50 L150.80 161.60Z" fill="#2e2e2e"/><path d="M152.20 161.60 L153.52 230.50 L154.84 295.60 L156.00 355.70 L154.84 414.40 L153.52 480.60 L152.20 548.60 L159.20 548.60 L160.31 480.60 L161.42 414.40 L162.40 355.70 L161.42 295.60 L160.31 230.50 L159.20 161.60Z" fill="#333333"/><path d="M145.50 161.60 L145.85 230.50 L146.19 295.60 L146.50 355.70 L146.19 414.40 L145.85 480.60 L145.50 548.60 L147.00 548.60 L147.87 480.60 L148.74 414.40 L149.50 355.70 L148.74 295.60 L147.87 230.50 L147.00 161.60Z" fill="#3a3a3a"/><path d="M284.00 161.60 L284.52 230.50 L285.04 295.60 L285.50 355.70 L285.04 414.40 L284.52 480.60 L284.00 548.60 L287.00 548.60 L287.49 480.60 L287.97 414.40 L288.40 355.70 L287.97 295.60 L287.49 230.50 L287.00 161.60Z" fill="#555555"/><path d="M280.00 161.60 L280.56 230.50 L281.11 295.60 L281.60 355.70 L281.11 414.40 L280.56 480.60 L280.00 548.60 L284.60 548.60 L285.29 480.60 L285.99 414.40 L286.60 355.70 L285.99 295.60 L285.29 230.50 L284.60 161.60Z" fill="#333333"/><path d="M289.00 161.60 L289.69 230.50 L290.39 295.60 L291.00 355.70 L290.39 414.40 L289.69 480.60 L289.00 548.60 L300.00 548.60 L301.39 480.60 L302.78 414.40 L304.00 355.70 L302.78 295.60 L301.39 230.50 L300.00 161.60Z" fill="#b3b3b3"/><path d="M303.80 161.60 L304.53 230.50 L305.26 295.60 L305.90 355.70 L305.26 414.40 L304.53 480.60 L303.80 548.60 L306.50 548.60 L306.67 480.60 L306.85 414.40 L307.00 355.70 L306.85 295.60 L306.67 230.50 L306.50 161.60Z" fill="#8a8a8a"/><path d="M304.90 161.60 L305.90 230.50 L306.90 295.60 L307.20 355.70 L306.90 414.40 L305.90 480.60 L304.90 548.60 L308.10 548.60 L309.10 480.60 L310.10 414.40 L310.40 355.70 L310.10 295.60 L309.10 230.50 L308.10 161.60Z" fill="#7a7a7a" opacity="1.00"/><path d="M300.50 161.60 L301.50 230.50 L302.30 295.60 L302.60 355.70 L302.30 414.40 L301.50 480.60 L300.50 548.60 L304.10 548.60 L304.80 480.60 L305.60 414.40 L305.90 355.70 L305.60 295.60 L304.80 230.50 L304.10 161.60Z" fill="#6c6c6c"/><path d="M306.50 161.60 L307.37 230.50 L308.24 295.60 L309.00 355.70 L308.24 414.40 L307.37 480.60 L306.50 548.60 L311.50 548.60 L312.02 480.60 L312.54 414.40 L313.00 355.70 L312.54 295.60 L312.02 230.50 L311.50 161.60Z" fill="#a5a5a5"/><path d="M316.00 161.60 L316.69 230.50 L317.39 295.60 L318.00 355.70 L317.39 414.40 L316.69 480.60 L316.00 548.60 L318.50 548.60 L319.19 480.60 L319.89 414.40 L320.50 355.70 L319.89 295.60 L319.19 230.50 L318.50 161.60Z" fill="#777777"/><path d="M312.30 161.60 L312.89 230.50 L313.48 295.60 L314.00 355.70 L313.48 414.40 L312.89 480.60 L312.30 548.60 L316.50 548.60 L317.26 480.60 L318.03 414.40 L318.70 355.70 L318.03 295.60 L317.26 230.50 L316.50 161.60Z" fill="#333333"/><path d="M381.00 161.60 L386.00 230.50 L391.00 295.60 L392.50 355.70 L391.00 414.40 L386.00 480.60 L381.00 548.60 L388.00 548.60 L391.50 480.60 L395.00 414.40 L396.50 355.70 L395.00 295.60 L391.50 230.50 L388.00 161.60Z" fill="#a4a4a4"/><path d="M384.50 161.60 L387.50 230.50 L392.50 295.60 L394.50 355.70 L392.50 414.40 L387.50 480.60 L384.50 548.60 L387.00 548.60 L390.00 480.60 L395.00 414.40 L397.00 355.70 L395.00 295.60 L390.00 230.50 L387.00 161.60Z" fill="#949494"/><path d="M374.60 161.60 L380.00 230.50 L386.80 295.60 L389.50 355.70 L386.80 414.40 L380.00 480.60 L374.60 548.60 L381.30 548.60 L386.00 480.60 L392.30 414.40 L394.30 355.70 L392.30 295.60 L386.00 230.50 L381.30 161.60Z" fill="#7a7a7a"/><path d="M376.50 161.60 L381.50 230.50 L388.30 295.60 L390.50 355.70 L388.30 414.40 L381.50 480.60 L376.50 548.60 L379.50 548.60 L384.50 480.60 L391.30 414.40 L393.50 355.70 L391.30 295.60 L384.50 230.50 L379.50 161.60Z" fill="#4a4a4a" opacity="1.00"/><path d="M398.50 161.60 L399.50 230.50 L402.00 295.60 L403.50 355.70 L402.00 414.40 L399.50 480.60 L398.50 548.60 L403.50 548.60 L403.00 480.60 L403.50 414.40 L405.00 355.70 L403.50 295.60 L403.00 230.50 L403.50 161.60Z" fill="#7a7a7a"/><path d="M395.10 161.60 L395.60 230.50 L398.10 295.60 L398.70 355.70 L398.10 414.40 L395.60 480.60 L395.10 548.60 L398.70 548.60 L399.70 480.60 L402.20 414.40 L403.80 355.70 L402.20 295.60 L399.70 230.50 L398.70 161.60Z" fill="#333333"/><path d="M403.80 161.60 L403.30 230.50 L404.00 295.60 L404.80 355.70 L404.00 414.40 L403.30 480.60 L403.80 548.60 L408.60 548.60 L408.50 480.60 L410.50 414.40 L410.90 355.70 L410.50 295.60 L408.50 230.50 L408.60 161.60Z" fill="#383838"/><path d="M408.60 161.60 L409.40 230.50 L410.20 295.60 L410.90 355.70 L410.20 414.40 L409.40 480.60 L408.60 548.60 L418.00 548.60 L418.69 480.60 L419.39 414.40 L420.00 355.70 L419.39 295.60 L418.69 230.50 L418.00 161.60Z" fill="#a8a8a8"/><path d="M412.00 161.60 L412.69 230.50 L413.39 295.60 L414.00 355.70 L413.39 414.40 L412.69 480.60 L412.00 548.60 L415.00 548.60 L415.69 480.60 L416.39 414.40 L417.00 355.70 L416.39 295.60 L415.69 230.50 L415.00 161.60Z" fill="#9a9a9a"/><path d="M426.80 161.60 L427.32 230.50 L427.84 295.60 L428.30 355.70 L427.84 414.40 L427.32 480.60 L426.80 548.60 L430.60 548.60 L431.05 480.60 L431.50 414.40 L431.90 355.70 L431.50 295.60 L431.05 230.50 L430.60 161.60Z" fill="#8c8c8c"/><path d="M427.10 161.60 L427.73 230.50 L428.35 295.60 L428.90 355.70 L428.35 414.40 L427.73 480.60 L427.10 548.60 L428.90 548.60 L429.52 480.60 L430.15 414.40 L430.70 355.70 L430.15 295.60 L429.52 230.50 L428.90 161.60Z" fill="#666666" opacity="1.00"/><path d="M467.60 161.60 L468.50 230.50 L471.00 295.60 L472.80 355.70 L471.00 414.40 L468.50 480.60 L467.60 548.60 L480.20 548.60 L481.50 480.60 L484.00 414.40 L485.20 355.70 L484.00 295.60 L481.50 230.50 L480.20 161.60Z" fill="#2a2a2a"/><path d="M471.60 161.60 L473.13 230.50 L474.66 295.60 L476.00 355.70 L474.66 414.40 L473.13 480.60 L471.60 548.60 L474.50 548.60 L475.89 480.60 L477.28 414.40 L478.50 355.70 L477.28 295.60 L475.89 230.50 L474.50 161.60Z" fill="#4a4a4a"/><path d="M480.20 161.60 L481.94 230.50 L483.67 295.60 L485.20 355.70 L483.67 414.40 L481.94 480.60 L480.20 548.60 L483.40 548.60 L485.03 480.60 L486.66 414.40 L488.10 355.70 L486.66 295.60 L485.03 230.50 L483.40 161.60Z" fill="#8a8a8a"/><path d="M483.60 161.60 L485.16 230.50 L486.73 295.60 L488.10 355.70 L486.73 414.40 L485.16 480.60 L483.60 548.60 L487.20 548.60 L488.48 480.60 L489.77 414.40 L490.90 355.70 L489.77 295.60 L488.48 230.50 L487.20 161.60Z" fill="#363636"/><path d="M487.20 161.60 L488.48 230.50 L489.77 295.60 L490.90 355.70 L489.77 414.40 L488.48 480.60 L487.20 548.60 L491.50 548.60 L492.19 480.60 L492.89 414.40 L493.50 355.70 L492.89 295.60 L492.19 230.50 L491.50 161.60Z" fill="#6a6a6a"/><path d="M491.50 161.60 L492.19 230.50 L492.89 295.60 L493.50 355.70 L492.89 414.40 L492.19 480.60 L491.50 548.60 L495.30 548.60 L495.47 480.60 L495.65 414.40 L495.80 355.70 L495.65 295.60 L495.47 230.50 L495.30 161.60Z" fill="#7c7c7c"/><path d="M495.30 161.60 L495.47 230.50 L495.65 295.60 L495.80 355.70 L495.65 414.40 L495.47 480.60 L495.30 548.60 L499.20 548.60 L499.27 480.60 L499.34 414.40 L499.40 355.70 L499.34 295.60 L499.27 230.50 L499.20 161.60Z" fill="#979797"/><path d="M499.20 161.60 L499.27 230.50 L499.34 295.60 L499.40 355.70 L499.34 414.40 L499.27 480.60 L499.20 548.60 L502.40 548.60 L502.40 480.60 L502.40 414.40 L502.40 355.70 L502.40 295.60 L502.40 230.50 L502.40 161.60Z" fill="#999999"/><path d="M568.50 161.60 L569.72 230.50 L570.93 295.60 L572.00 355.70 L570.93 414.40 L569.72 480.60 L568.50 548.60 L573.00 548.60 L573.00 480.60 L573.00 414.40 L573.00 355.70 L573.00 295.60 L573.00 230.50 L573.00 161.60Z" fill="#888888"/><path d="M563.40 161.60 L564.65 230.50 L565.90 295.60 L567.00 355.70 L565.90 414.40 L564.65 480.60 L563.40 548.60 L569.00 548.60 L570.04 480.60 L571.08 414.40 L572.00 355.70 L571.08 295.60 L570.04 230.50 L569.00 161.60Z" fill="#676767"/><path d="M560.00 161.60 L562.50 230.50 L565.50 295.60 L566.90 355.70 L565.50 414.40 L562.50 480.60 L560.00 548.60 L563.40 548.60 L566.80 480.60 L571.00 414.40 L572.40 355.70 L571.00 295.60 L566.80 230.50 L563.40 161.60Z" fill="#333333"/><path d="M573.50 161.60 L573.60 230.50 L573.71 295.60 L573.80 355.70 L573.71 414.40 L573.60 480.60 L573.50 548.60 L575.00 548.60 L575.35 480.60 L575.69 414.40 L576.00 355.70 L575.69 295.60 L575.35 230.50 L575.00 161.60Z" fill="#8a8a8a"/><path d="M381.00 161.60 L386.20 230.50 L391.80 295.60 L393.80 355.70 L391.80 414.40 L386.20 480.60 L381.00 548.60 L382.60 548.60 L387.80 480.60 L393.40 414.40 L395.40 355.70 L393.40 295.60 L387.80 230.50 L382.60 161.60Z" fill="#8e8e8e" opacity="1.00"/><path d="M389.00 161.60 L391.00 230.50 L395.00 295.60 L396.40 355.70 L395.00 414.40 L391.00 480.60 L389.00 548.60 L390.60 548.60 L392.60 480.60 L396.60 414.40 L398.00 355.70 L396.60 295.60 L392.60 230.50 L390.60 161.60Z" fill="#9a9a9a" opacity="1.00"/><path d="M412.90 161.60 L414.05 230.50 L415.19 295.60 L416.20 355.70 L415.19 414.40 L414.05 480.60 L412.90 548.60 L414.50 548.60 L415.65 480.60 L416.79 414.40 L417.80 355.70 L416.79 295.60 L415.65 230.50 L414.50 161.60Z" fill="#a0a0a0" opacity="1.00"/><path d="M418.85 161.60 L419.89 230.50 L420.93 295.60 L421.85 355.70 L420.93 414.40 L419.89 480.60 L418.85 548.60 L420.15 548.60 L421.19 480.60 L422.23 414.40 L423.15 355.70 L422.23 295.60 L421.19 230.50 L420.15 161.60Z" fill="#a6a6a6" opacity="1.00"/><path d="M306.55 161.60 L307.85 230.50 L309.35 295.60 L310.15 355.70 L309.35 414.40 L307.85 480.60 L306.55 548.60 L307.85 548.60 L309.15 480.60 L310.65 414.40 L311.45 355.70 L310.65 295.60 L309.15 230.50 L307.85 161.60Z" fill="#a2a2a2" opacity="1.00"/><path d="M294.35 161.60 L295.04 230.50 L295.74 295.60 L296.35 355.70 L295.74 414.40 L295.04 480.60 L294.35 548.60 L295.65 548.60 L296.34 480.60 L297.04 414.40 L297.65 355.70 L297.04 295.60 L296.34 230.50 L295.65 161.60Z" fill="#a8a8a8" opacity="1.00"/><path d="M287.95 161.60 L288.51 230.50 L289.06 295.60 L289.55 355.70 L289.06 414.40 L288.51 480.60 L287.95 548.60 L289.25 548.60 L289.81 480.60 L290.36 414.40 L290.85 355.70 L290.36 295.60 L289.81 230.50 L289.25 161.60Z" fill="#9e9e9e" opacity="1.00"/><path d="M504.85 161.60 L505.37 230.50 L505.89 295.60 L506.35 355.70 L505.89 414.40 L505.37 480.60 L504.85 548.60 L506.15 548.60 L506.67 480.60 L507.19 414.40 L507.65 355.70 L507.19 295.60 L506.67 230.50 L506.15 161.60Z" fill="#a5a5a5" opacity="1.00"/><path d="M510.35 161.60 L510.87 230.50 L511.39 295.60 L511.85 355.70 L511.39 414.40 L510.87 480.60 L510.35 548.60 L511.65 548.60 L512.17 480.60 L512.69 414.40 L513.15 355.70 L512.69 295.60 L512.17 230.50 L511.65 161.60Z" fill="#a8a8a8" opacity="1.00"/><path d="M554.85 161.60 L555.89 230.50 L556.93 295.60 L557.85 355.70 L556.93 414.40 L555.89 480.60 L554.85 548.60 L556.15 548.60 L557.19 480.60 L558.23 414.40 L559.15 355.70 L558.23 295.60 L557.19 230.50 L556.15 161.60Z" fill="#a2a2a2" opacity="1.00"/><path d="M136.35 161.60 L136.87 230.50 L137.39 295.60 L137.85 355.70 L137.39 414.40 L136.87 480.60 L136.35 548.60 L137.65 548.60 L138.17 480.60 L138.69 414.40 L139.15 355.70 L138.69 295.60 L138.17 230.50 L137.65 161.60Z" fill="#a8a8a8" opacity="1.00"/><path d="M79.85 161.60 L80.20 230.50 L80.54 295.60 L80.85 355.70 L80.54 414.40 L80.20 480.60 L79.85 548.60 L81.15 548.60 L81.50 480.60 L81.84 414.40 L82.15 355.70 L81.84 295.60 L81.50 230.50 L81.15 161.60Z" fill="#a6a6a6" opacity="1.00"/><path d="M108.50 294.00 L116.50 294.00 L117.00 355.70 L115.00 490.00 L109.50 490.00 L108.50 355.70Z" fill="url(#gA2)"/></g>
<g filter="url(#bs)"><path d="M108.90 294.00 L111.60 294.00 L112.20 355.70 L112.80 440.00 L112.60 492.00 L110.20 492.00 L109.80 440.00 L109.20 355.70Z" fill="url(#gA)"/><path d="M113.40 296.00 L116.00 296.00 L116.60 355.70 L116.00 440.00 L114.20 488.00 L112.40 488.00 L113.40 440.00 L113.90 355.70Z" fill="url(#gA)"/><path d="M518.00 262.00 L520.40 262.00 L524.40 355.70 L522.00 440.00 L518.20 498.00 L516.00 498.00 L519.60 440.00 L522.00 355.70Z" fill="url(#gB)"/><path d="M511.00 275.00 L513.50 275.00 L514.20 355.70 L513.80 470.00 L511.40 470.00 L511.50 355.70Z" fill="url(#gB)" opacity="0.55"/></g>
<line x1="74.23" y1="164.6" x2="74.23" y2="545.6" stroke="#ffffff" stroke-width="1.1" stroke-dasharray="1.2 1.15" opacity="0.6"/>
<line x1="98.00" y1="164.6" x2="98.00" y2="545.6" stroke="#ffffff" stroke-width="1.3" opacity="0.58"/>
<line x1="121.77" y1="164.6" x2="121.77" y2="545.6" stroke="#ffffff" stroke-width="1.1" stroke-dasharray="1.2 1.15" opacity="0.6"/>
<line x1="145.53" y1="164.6" x2="145.53" y2="545.6" stroke="#ffffff" stroke-width="1.1" stroke-dasharray="1.2 1.15" opacity="0.6"/>
<line x1="169.30" y1="164.6" x2="169.30" y2="545.6" stroke="#ffffff" stroke-width="1.1" stroke-dasharray="1.2 1.15" opacity="0.6"/>
<line x1="193.06" y1="164.6" x2="193.06" y2="545.6" stroke="#ffffff" stroke-width="1.1" stroke-dasharray="1.2 1.15" opacity="0.6"/>
<line x1="216.82" y1="164.6" x2="216.82" y2="545.6" stroke="#ffffff" stroke-width="1.3" opacity="0.58"/>
<line x1="240.59" y1="164.6" x2="240.59" y2="545.6" stroke="#ffffff" stroke-width="1.1" stroke-dasharray="1.2 1.15" opacity="0.6"/>
<line x1="264.36" y1="164.6" x2="264.36" y2="545.6" stroke="#ffffff" stroke-width="1.1" stroke-dasharray="1.2 1.15" opacity="0.6"/>
<line x1="288.12" y1="164.6" x2="288.12" y2="545.6" stroke="#ffffff" stroke-width="1.1" stroke-dasharray="1.2 1.15" opacity="0.6"/>
<line x1="311.88" y1="164.6" x2="311.88" y2="545.6" stroke="#ffffff" stroke-width="1.1" stroke-dasharray="1.2 1.15" opacity="0.6"/>
<line x1="335.65" y1="164.6" x2="335.65" y2="545.6" stroke="#ffffff" stroke-width="1.3" opacity="0.58"/>
<line x1="359.42" y1="164.6" x2="359.42" y2="545.6" stroke="#ffffff" stroke-width="1.1" stroke-dasharray="1.2 1.15" opacity="0.6"/>
<line x1="383.18" y1="164.6" x2="383.18" y2="545.6" stroke="#ffffff" stroke-width="1.1" stroke-dasharray="1.2 1.15" opacity="0.6"/>
<line x1="406.94" y1="164.6" x2="406.94" y2="545.6" stroke="#ffffff" stroke-width="1.1" stroke-dasharray="1.2 1.15" opacity="0.6"/>
<line x1="430.71" y1="164.6" x2="430.71" y2="545.6" stroke="#ffffff" stroke-width="1.1" stroke-dasharray="1.2 1.15" opacity="0.6"/>
<line x1="454.48" y1="164.6" x2="454.48" y2="545.6" stroke="#ffffff" stroke-width="1.3" opacity="0.58"/>
<line x1="478.24" y1="164.6" x2="478.24" y2="545.6" stroke="#ffffff" stroke-width="1.1" stroke-dasharray="1.2 1.15" opacity="0.6"/>
<line x1="502.00" y1="164.6" x2="502.00" y2="545.6" stroke="#ffffff" stroke-width="1.1" stroke-dasharray="1.2 1.15" opacity="0.6"/>
<line x1="525.77" y1="164.6" x2="525.77" y2="545.6" stroke="#ffffff" stroke-width="1.1" stroke-dasharray="1.2 1.15" opacity="0.6"/>
<line x1="549.54" y1="164.6" x2="549.54" y2="545.6" stroke="#ffffff" stroke-width="1.1" stroke-dasharray="1.2 1.15" opacity="0.6"/>
<line x1="573.30" y1="164.6" x2="573.30" y2="545.6" stroke="#ffffff" stroke-width="1.3" opacity="0.58"/>
<line x1="597.07" y1="164.6" x2="597.07" y2="545.6" stroke="#ffffff" stroke-width="1.1" stroke-dasharray="1.2 1.15" opacity="0.6"/>
<line x1="620.83" y1="164.6" x2="620.83" y2="545.6" stroke="#ffffff" stroke-width="1.1" stroke-dasharray="1.2 1.15" opacity="0.6"/>
<line x1="50.5" y1="177.30" x2="637.3" y2="177.30" stroke="#555" stroke-width="0.9" stroke-dasharray="1 1.35" opacity="0.5"/>
<line x1="50.5" y1="190.80" x2="637.3" y2="190.80" stroke="#555" stroke-width="0.9" stroke-dasharray="1 1.35" opacity="0.5"/>
<line x1="50.5" y1="203.90" x2="637.3" y2="203.90" stroke="#555" stroke-width="0.9" stroke-dasharray="1 1.35" opacity="0.5"/>
<line x1="50.5" y1="217.00" x2="637.3" y2="217.00" stroke="#555" stroke-width="0.9" stroke-dasharray="1 1.35" opacity="0.5"/>
<line x1="50.5" y1="243.20" x2="637.3" y2="243.20" stroke="#555" stroke-width="0.9" stroke-dasharray="1 1.35" opacity="0.5"/>
<line x1="50.5" y1="256.40" x2="637.3" y2="256.40" stroke="#555" stroke-width="0.9" stroke-dasharray="1 1.35" opacity="0.5"/>
<line x1="50.5" y1="269.20" x2="637.3" y2="269.20" stroke="#555" stroke-width="0.9" stroke-dasharray="1 1.35" opacity="0.5"/>
<line x1="50.5" y1="282.40" x2="637.3" y2="282.40" stroke="#555" stroke-width="0.9" stroke-dasharray="1 1.35" opacity="0.5"/>
<line x1="50.5" y1="309.20" x2="637.3" y2="309.20" stroke="#555" stroke-width="0.9" stroke-dasharray="1 1.35" opacity="0.5"/>
<line x1="50.5" y1="322.30" x2="637.3" y2="322.30" stroke="#555" stroke-width="0.9" stroke-dasharray="1 1.35" opacity="0.5"/>
<line x1="50.5" y1="335.50" x2="637.3" y2="335.50" stroke="#555" stroke-width="0.9" stroke-dasharray="1 1.35" opacity="0.5"/>
<line x1="50.5" y1="348.50" x2="637.3" y2="348.50" stroke="#555" stroke-width="0.9" stroke-dasharray="1 1.35" opacity="0.5"/>
<line x1="50.5" y1="361.90" x2="637.3" y2="361.90" stroke="#555" stroke-width="0.9" stroke-dasharray="1 1.35" opacity="0.5"/>
<line x1="50.5" y1="375.30" x2="637.3" y2="375.30" stroke="#555" stroke-width="0.9" stroke-dasharray="1 1.35" opacity="0.5"/>
<line x1="50.5" y1="388.10" x2="637.3" y2="388.10" stroke="#555" stroke-width="0.9" stroke-dasharray="1 1.35" opacity="0.5"/>
<line x1="50.5" y1="401.30" x2="637.3" y2="401.30" stroke="#555" stroke-width="0.9" stroke-dasharray="1 1.35" opacity="0.5"/>
<line x1="50.5" y1="428.20" x2="637.3" y2="428.20" stroke="#555" stroke-width="0.9" stroke-dasharray="1 1.35" opacity="0.5"/>
<line x1="50.5" y1="441.10" x2="637.3" y2="441.10" stroke="#555" stroke-width="0.9" stroke-dasharray="1 1.35" opacity="0.5"/>
<line x1="50.5" y1="454.30" x2="637.3" y2="454.30" stroke="#555" stroke-width="0.9" stroke-dasharray="1 1.35" opacity="0.5"/>
<line x1="50.5" y1="467.40" x2="637.3" y2="467.40" stroke="#555" stroke-width="0.9" stroke-dasharray="1 1.35" opacity="0.5"/>
<line x1="50.5" y1="493.50" x2="637.3" y2="493.50" stroke="#555" stroke-width="0.9" stroke-dasharray="1 1.35" opacity="0.5"/>
<line x1="50.5" y1="506.80" x2="637.3" y2="506.80" stroke="#555" stroke-width="0.9" stroke-dasharray="1 1.35" opacity="0.5"/>
<line x1="50.5" y1="519.60" x2="637.3" y2="519.60" stroke="#555" stroke-width="0.9" stroke-dasharray="1 1.35" opacity="0.5"/>
<line x1="50.5" y1="532.80" x2="637.3" y2="532.80" stroke="#555" stroke-width="0.9" stroke-dasharray="1 1.35" opacity="0.5"/>
<line x1="44.5" y1="230.50" x2="643.3" y2="230.50" stroke="#383838" stroke-width="1.1" stroke-dasharray="8.9 1.15" stroke-dashoffset="5.5"/>
<line x1="44.5" y1="295.50" x2="643.3" y2="295.50" stroke="#383838" stroke-width="1.1" stroke-dasharray="8.9 1.15" stroke-dashoffset="5.5"/>
<line x1="44.5" y1="355.50" x2="643.3" y2="355.50" stroke="#383838" stroke-width="1.1" stroke-dasharray="8.9 1.15" stroke-dashoffset="5.5"/>
<line x1="44.5" y1="414.50" x2="643.3" y2="414.50" stroke="#383838" stroke-width="1.1" stroke-dasharray="8.9 1.15" stroke-dashoffset="5.5"/>
<line x1="44.5" y1="480.50" x2="643.3" y2="480.50" stroke="#383838" stroke-width="1.1" stroke-dasharray="8.9 1.15" stroke-dashoffset="5.5"/>
</g>
<rect x="50.5" y="164.6" width="586.8" height="381.0" fill="none" stroke="#111" stroke-width="1.2"/>
<path d="M62.50 545.6V548.0 M62.50 164.6V162.2 M74.50 545.6V550.2 M74.50 164.6V160.0 M86.50 545.6V548.0 M86.50 164.6V162.2 M98.50 545.6V553.6 M98.50 164.6V156.6 M109.50 545.6V548.0 M109.50 164.6V162.2 M121.50 545.6V550.2 M121.50 164.6V160.0 M133.50 545.6V548.0 M133.50 164.6V162.2 M145.50 545.6V550.2 M145.50 164.6V160.0 M157.50 545.6V548.0 M157.50 164.6V162.2 M169.50 545.6V550.2 M169.50 164.6V160.0 M181.50 545.6V548.0 M181.50 164.6V162.2 M193.50 545.6V550.2 M193.50 164.6V160.0 M204.50 545.6V548.0 M204.50 164.6V162.2 M216.50 545.6V553.6 M216.50 164.6V156.6 M228.50 545.6V548.0 M228.50 164.6V162.2 M240.50 545.6V550.2 M240.50 164.6V160.0 M252.50 545.6V548.0 M252.50 164.6V162.2 M264.50 545.6V550.2 M264.50 164.6V160.0 M276.50 545.6V548.0 M276.50 164.6V162.2 M288.50 545.6V550.2 M288.50 164.6V160.0 M300.50 545.6V548.0 M300.50 164.6V162.2 M311.50 545.6V550.2 M311.50 164.6V160.0 M323.50 545.6V548.0 M323.50 164.6V162.2 M335.50 545.6V553.6 M335.50 164.6V156.6 M347.50 545.6V548.0 M347.50 164.6V162.2 M359.50 545.6V550.2 M359.50 164.6V160.0 M371.50 545.6V548.0 M371.50 164.6V162.2 M383.50 545.6V550.2 M383.50 164.6V160.0 M395.50 545.6V548.0 M395.50 164.6V162.2 M406.50 545.6V550.2 M406.50 164.6V160.0 M418.50 545.6V548.0 M418.50 164.6V162.2 M430.50 545.6V550.2 M430.50 164.6V160.0 M442.50 545.6V548.0 M442.50 164.6V162.2 M454.50 545.6V553.6 M454.50 164.6V156.6 M466.50 545.6V548.0 M466.50 164.6V162.2 M478.50 545.6V550.2 M478.50 164.6V160.0 M490.50 545.6V548.0 M490.50 164.6V162.2 M502.50 545.6V550.2 M502.50 164.6V160.0 M513.50 545.6V548.0 M513.50 164.6V162.2 M525.50 545.6V550.2 M525.50 164.6V160.0 M537.50 545.6V548.0 M537.50 164.6V162.2 M549.50 545.6V550.2 M549.50 164.6V160.0 M561.50 545.6V548.0 M561.50 164.6V162.2 M573.50 545.6V553.6 M573.50 164.6V156.6 M585.50 545.6V548.0 M585.50 164.6V162.2 M597.50 545.6V550.2 M597.50 164.6V160.0 M608.50 545.6V548.0 M608.50 164.6V162.2 M620.50 545.6V550.2 M620.50 164.6V160.0 M632.50 545.6V548.0 M632.50 164.6V162.2" stroke="#111" stroke-width="1.1" fill="none"/>
<path d="M45.0 164.60H50.5 M637.3 164.60H642.8 M45.0 230.50H50.5 M637.3 230.50H642.8 M45.0 295.60H50.5 M637.3 295.60H642.8 M45.0 355.70H50.5 M637.3 355.70H642.8 M45.0 414.40H50.5 M637.3 414.40H642.8 M45.0 480.60H50.5 M637.3 480.60H642.8 M45.0 545.60H50.5 M637.3 545.60H642.8" stroke="#111" stroke-width="1.2" fill="none"/>
<text x="43" y="169.8" font-size="15" text-anchor="end">300</text>
<text x="644.5" y="169.8" font-size="15">300</text>
<text x="43" y="235.7" font-size="15" text-anchor="end">200</text>
<text x="644.5" y="235.7" font-size="15">200</text>
<text x="43" y="300.8" font-size="15" text-anchor="end">100</text>
<text x="644.5" y="300.8" font-size="15">100</text>
<text x="43" y="360.9" font-size="15" text-anchor="end">12</text>
<text x="644.5" y="360.9" font-size="15">12</text>
<text x="43" y="419.6" font-size="15" text-anchor="end">100</text>
<text x="644.5" y="419.6" font-size="15">100</text>
<text x="43" y="485.8" font-size="15" text-anchor="end">200</text>
<text x="644.5" y="485.8" font-size="15">200</text>
<text x="43" y="550.8" font-size="15" text-anchor="end">300</text>
<text x="644.5" y="550.8" font-size="15">300</text>
<text x="97.40" y="568.6" font-size="15" text-anchor="middle">10</text>
<text x="216.22" y="568.6" font-size="15" text-anchor="middle">15</text>
<text x="335.05" y="568.6" font-size="15" text-anchor="middle">20</text>
<text x="453.88" y="568.6" font-size="15" text-anchor="middle">25</text>
<text x="572.70" y="568.6" font-size="15" text-anchor="middle">30</text>
<text x="337" y="591.7" font-size="15.5" text-anchor="middle">Angle 2&#952;</text>
<text transform="translate(10.6 341.6) rotate(-90)" font-size="15.5" text-anchor="middle">Temperature (K)</text>
<path d="M50.5 17V164.6" stroke="#111" stroke-width="1.2" fill="none"/>
<path d="M45.0 17.00H50.5 M47.0 39.40H50.5 M45.0 61.80H50.5 M47.0 84.20H50.5 M45.0 106.60H50.5 M47.0 129.00H50.5 M45.0 151.40H50.5" stroke="#111" stroke-width="1.2" fill="none"/>
<path d="M52.00 152.24 L52.50 152.36 L53.00 152.01 L53.50 152.41 L54.00 152.08 L54.50 152.20 L55.00 152.41 L55.50 152.09 L56.00 152.42 L56.50 152.14 L57.00 152.39 L57.50 152.37 L58.00 152.14 L58.50 151.85 L59.00 152.34 L59.50 152.27 L60.00 151.98 L60.50 151.75 L61.00 152.01 L61.50 152.13 L62.00 151.72 L62.50 152.36 L63.00 151.79 L63.50 152.18 L64.00 152.28 L64.50 152.29 L65.00 152.15 L65.50 151.79 L66.00 152.22 L66.50 151.93 L67.00 151.88 L67.50 152.06 L68.00 151.93 L68.50 152.26 L69.00 152.25 L69.50 152.13 L70.00 151.79 L70.50 151.95 L71.00 152.01 L71.50 151.81 L72.00 151.88 L72.50 151.97 L73.00 151.60 L73.50 151.65 L74.00 151.94 L74.50 151.68 L75.00 151.68 L75.50 151.40 L76.00 151.47 L76.50 151.73 L77.00 151.20 L77.50 151.75 L78.00 151.48 L78.50 151.18 L79.00 151.52 L79.50 151.20 L80.00 151.41 L80.50 150.85 L81.00 150.64 L81.50 150.61 L82.00 150.20 L82.50 150.36 L83.00 149.81 L83.50 149.52 L84.00 149.09 L84.50 148.60 L85.00 147.53 L85.50 146.26 L86.00 144.55 L86.50 140.63 L87.00 134.01 L87.50 121.37 L88.00 102.76 L88.50 78.24 L89.00 53.15 L89.50 37.00 L90.00 38.00 L90.50 52.61 L91.00 74.46 L91.50 95.73 L92.00 114.04 L92.50 127.38 L93.00 136.23 L93.50 141.12 L94.00 144.71 L94.50 146.47 L95.00 147.52 L95.50 147.97 L96.00 149.10 L96.50 149.29 L97.00 149.59 L97.50 149.65 L98.00 149.95 L98.50 150.13 L99.00 150.72 L99.50 150.77 L100.00 150.95 L100.50 150.69 L101.00 150.74 L101.50 151.39 L102.00 151.45 L102.50 151.48 L103.00 151.54 L103.50 151.42 L104.00 151.40 L104.50 151.67 L105.00 151.89 L105.50 151.64 L106.00 151.71 L106.50 151.60 L107.00 151.35 L107.50 151.56 L108.00 151.71 L108.50 151.66 L109.00 151.63 L109.50 152.09 L110.00 151.51 L110.50 151.61 L111.00 151.56 L111.50 151.62 L112.00 151.92 L112.50 151.92 L113.00 152.14 L113.50 151.78 L114.00 152.19 L114.50 152.19 L115.00 152.10 L115.50 152.14 L116.00 152.02 L116.50 152.22 L117.00 152.26 L117.50 152.16 L118.00 152.20 L118.50 152.02 L119.00 152.26 L119.50 151.66 L120.00 151.85 L120.50 152.17 L121.00 152.10 L121.50 152.03 L122.00 152.02 L122.50 152.19 L123.00 151.68 L123.50 151.58 L124.00 151.94 L124.50 151.93 L125.00 152.20 L125.50 152.18 L126.00 152.01 L126.50 152.06 L127.00 151.66 L127.50 152.12 L128.00 152.20 L128.50 151.54 L129.00 151.83 L129.50 152.08 L130.00 151.79 L130.50 152.14 L131.00 151.77 L131.50 151.44 L132.00 151.50 L132.50 151.59 L133.00 151.87 L133.50 151.76 L134.00 151.87 L134.50 151.41 L135.00 151.53 L135.50 151.31 L136.00 151.57 L136.50 151.57 L137.00 151.09 L137.50 150.87 L138.00 150.86 L138.50 150.77 L139.00 150.61 L139.50 150.48 L140.00 150.61 L140.50 150.12 L141.00 149.86 L141.50 149.56 L142.00 148.73 L142.50 147.11 L143.00 144.53 L143.50 139.68 L144.00 132.15 L144.50 121.95 L145.00 108.59 L145.50 95.61 L146.00 87.41 L146.50 88.28 L147.00 95.48 L147.50 106.11 L148.00 117.35 L148.50 127.26 L149.00 134.73 L149.50 140.02 L150.00 143.63 L150.50 146.03 L151.00 147.13 L151.50 147.65 L152.00 148.33 L152.50 147.64 L153.00 146.49 L153.50 144.53 L154.00 141.06 L154.50 136.25 L155.00 130.67 L155.50 125.42 L156.00 124.40 L156.50 126.16 L157.00 130.12 L157.50 135.30 L158.00 139.77 L158.50 143.06 L159.00 145.94 L159.50 148.18 L160.00 149.39 L160.50 150.11 L161.00 150.04 L161.50 150.41 L162.00 151.08 L162.50 150.76 L163.00 150.78 L163.50 151.12 L164.00 151.42 L164.50 151.36 L165.00 151.72 L165.50 151.86 L166.00 151.24 L166.50 151.51 L167.00 151.63 L167.50 151.38 L168.00 151.76 L168.50 151.49 L169.00 151.54 L169.50 152.00 L170.00 151.99 L170.50 151.98 L171.00 152.04 L171.50 151.81 L172.00 152.06 L172.50 151.96 L173.00 152.17 L173.50 151.64 L174.00 152.04 L174.50 151.98 L175.00 151.90 L175.50 151.69 L176.00 152.03 L176.50 151.69 L177.00 151.99 L177.50 151.98 L178.00 151.99 L178.50 152.35 L179.00 152.06 L179.50 152.25 L180.00 152.38 L180.50 151.83 L181.00 152.27 L181.50 152.06 L182.00 151.89 L182.50 152.01 L183.00 152.18 L183.50 152.05 L184.00 152.03 L184.50 151.87 L185.00 152.35 L185.50 152.03 L186.00 152.26 L186.50 152.24 L187.00 151.89 L187.50 152.08 L188.00 152.05 L188.50 151.91 L189.00 151.81 L189.50 152.14 L190.00 152.02 L190.50 152.10 L191.00 152.10 L191.50 151.97 L192.00 152.14 L192.50 152.09 L193.00 152.13 L193.50 151.80 L194.00 151.98 L194.50 151.85 L195.00 151.81 L195.50 152.29 L196.00 152.08 L196.50 151.81 L197.00 151.89 L197.50 152.38 L198.00 152.39 L198.50 152.17 L199.00 152.43 L199.50 152.31 L200.00 152.43 L200.50 152.01 L201.00 151.93 L201.50 151.86 L202.00 152.38 L202.50 151.99 L203.00 152.03 L203.50 152.39 L204.00 151.87 L204.50 151.81 L205.00 152.34 L205.50 151.83 L206.00 152.21 L206.50 152.15 L207.00 151.80 L207.50 151.91 L208.00 152.38 L208.50 152.19 L209.00 152.14 L209.50 152.26 L210.00 152.36 L210.50 152.28 L211.00 151.99 L211.50 152.49 L212.00 152.11 L212.50 152.19 L213.00 152.49 L213.50 152.27 L214.00 152.07 L214.50 152.15 L215.00 152.46 L215.50 151.82 L216.00 151.95 L216.50 151.83 L217.00 152.43 L217.50 152.32 L218.00 152.48 L218.50 151.96 L219.00 152.32 L219.50 152.42 L220.00 152.21 L220.50 151.87 L221.00 151.94 L221.50 152.33 L222.00 152.41 L222.50 151.87 L223.00 152.11 L223.50 152.02 L224.00 152.45 L224.50 152.47 L225.00 152.03 L225.50 152.21 L226.00 152.46 L226.50 151.86 L227.00 152.07 L227.50 151.95 L228.00 152.45 L228.50 151.91 L229.00 152.47 L229.50 151.91 L230.00 152.20 L230.50 152.28 L231.00 152.13 L231.50 151.87 L232.00 152.33 L232.50 152.42 L233.00 152.15 L233.50 152.35 L234.00 152.44 L234.50 152.40 L235.00 152.48 L235.50 152.37 L236.00 152.30 L236.50 152.30 L237.00 151.98 L237.50 152.31 L238.00 152.17 L238.50 152.39 L239.00 152.27 L239.50 152.50 L240.00 152.34 L240.50 152.51 L241.00 152.00 L241.50 152.13 L242.00 152.38 L242.50 152.18 L243.00 151.86 L243.50 152.44 L244.00 151.94 L244.50 152.21 L245.00 152.17 L245.50 151.93 L246.00 152.24 L246.50 152.16 L247.00 152.03 L247.50 151.83 L248.00 152.28 L248.50 151.93 L249.00 152.02 L249.50 152.07 L250.00 152.23 L250.50 152.27 L251.00 152.48 L251.50 152.42 L252.00 152.46 L252.50 151.99 L253.00 152.33 L253.50 152.40 L254.00 152.45 L254.50 151.92 L255.00 151.90 L255.50 152.04 L256.00 152.31 L256.50 152.34 L257.00 152.30 L257.50 152.19 L258.00 152.40 L258.50 152.20 L259.00 152.32 L259.50 151.83 L260.00 151.82 L260.50 152.12 L261.00 152.33 L261.50 151.83 L262.00 152.28 L262.50 152.25 L263.00 152.50 L263.50 152.23 L264.00 152.16 L264.50 152.14 L265.00 152.35 L265.50 152.14 L266.00 152.49 L266.50 152.30 L267.00 152.42 L267.50 152.20 L268.00 152.45 L268.50 152.46 L269.00 152.26 L269.50 152.30 L270.00 152.05 L270.50 152.09 L271.00 151.93 L271.50 151.99 L272.00 151.94 L272.50 151.82 L273.00 152.15 L273.50 152.18 L274.00 151.71 L274.50 152.28 L275.00 151.86 L275.50 151.90 L276.00 152.30 L276.50 151.72 L277.00 151.64 L277.50 151.79 L278.00 151.66 L278.50 151.53 L279.00 151.90 L279.50 151.48 L280.00 151.22 L280.50 150.46 L281.00 149.47 L281.50 147.68 L282.00 145.20 L282.50 141.76 L283.00 139.10 L283.50 138.25 L284.00 139.50 L284.50 141.53 L285.00 143.73 L285.50 145.77 L286.00 147.81 L286.50 148.73 L287.00 149.93 L287.50 150.55 L288.00 150.97 L288.50 151.19 L289.00 151.49 L289.50 151.94 L290.00 151.46 L290.50 151.55 L291.00 151.77 L291.50 151.78 L292.00 151.72 L292.50 152.16 L293.00 151.71 L293.50 152.06 L294.00 152.19 L294.50 152.07 L295.00 151.74 L295.50 152.11 L296.00 151.73 L296.50 151.55 L297.00 151.86 L297.50 151.91 L298.00 151.79 L298.50 151.56 L299.00 151.33 L299.50 151.13 L300.00 150.59 L300.50 150.21 L301.00 149.12 L301.50 147.92 L302.00 146.66 L302.50 146.71 L303.00 146.83 L303.50 147.86 L304.00 148.63 L304.50 149.30 L305.00 149.74 L305.50 150.32 L306.00 150.78 L306.50 151.36 L307.00 151.40 L307.50 151.56 L308.00 151.62 L308.50 151.89 L309.00 151.35 L309.50 151.80 L310.00 151.20 L310.50 151.12 L311.00 151.55 L311.50 150.79 L312.00 149.61 L312.50 147.77 L313.00 145.40 L313.50 142.17 L314.00 139.45 L314.50 138.50 L315.00 140.26 L315.50 142.12 L316.00 144.77 L316.50 146.63 L317.00 148.04 L317.50 149.85 L318.00 150.20 L318.50 150.94 L319.00 150.99 L319.50 151.31 L320.00 151.77 L320.50 151.39 L321.00 151.75 L321.50 152.12 L322.00 152.18 L322.50 151.88 L323.00 151.94 L323.50 152.07 L324.00 152.20 L324.50 152.08 L325.00 152.12 L325.50 151.76 L326.00 152.36 L326.50 151.85 L327.00 151.80 L327.50 152.31 L328.00 151.76 L328.50 151.91 L329.00 151.79 L329.50 152.22 L330.00 152.17 L330.50 152.16 L331.00 151.74 L331.50 152.03 L332.00 152.20 L332.50 152.16 L333.00 152.27 L333.50 152.43 L334.00 152.39 L334.50 151.88 L335.00 152.27 L335.50 151.82 L336.00 152.30 L336.50 152.29 L337.00 152.12 L337.50 152.35 L338.00 152.22 L338.50 151.81 L339.00 151.87 L339.50 151.92 L340.00 152.05 L340.50 151.85 L341.00 151.83 L341.50 152.11 L342.00 151.99 L342.50 152.46 L343.00 151.98 L343.50 152.18 L344.00 151.97 L344.50 152.05 L345.00 152.30 L345.50 152.46 L346.00 151.85 L346.50 152.41 L347.00 152.17 L347.50 152.26 L348.00 152.29 L348.50 151.98 L349.00 151.82 L349.50 152.32 L350.00 152.04 L350.50 152.29 L351.00 152.11 L351.50 152.23 L352.00 152.39 L352.50 152.39 L353.00 152.36 L353.50 151.87 L354.00 152.15 L354.50 152.35 L355.00 151.87 L355.50 151.80 L356.00 152.19 L356.50 152.40 L357.00 152.37 L357.50 152.44 L358.00 152.26 L358.50 152.44 L359.00 152.33 L359.50 152.32 L360.00 152.10 L360.50 151.88 L361.00 151.97 L361.50 152.21 L362.00 152.21 L362.50 152.13 L363.00 152.23 L363.50 152.26 L364.00 152.45 L364.50 152.30 L365.00 151.81 L365.50 152.40 L366.00 152.13 L366.50 152.04 L367.00 151.88 L367.50 152.33 L368.00 152.28 L368.50 152.30 L369.00 152.19 L369.50 152.15 L370.00 151.79 L370.50 151.85 L371.00 151.82 L371.50 152.41 L372.00 152.38 L372.50 151.89 L373.00 151.72 L373.50 151.96 L374.00 151.76 L374.50 151.93 L375.00 151.22 L375.50 150.19 L376.00 149.50 L376.50 148.94 L377.00 148.86 L377.50 149.73 L378.00 150.35 L378.50 150.86 L379.00 151.06 L379.50 151.30 L380.00 151.35 L380.50 151.65 L381.00 151.78 L381.50 151.75 L382.00 151.99 L382.50 151.94 L383.00 152.31 L383.50 151.80 L384.00 152.18 L384.50 151.70 L385.00 151.89 L385.50 152.13 L386.00 152.24 L386.50 152.15 L387.00 151.87 L387.50 151.81 L388.00 152.20 L388.50 152.20 L389.00 151.85 L389.50 151.75 L390.00 151.79 L390.50 151.71 L391.00 151.09 L391.50 150.95 L392.00 150.11 L392.50 149.57 L393.00 149.33 L393.50 150.02 L394.00 150.32 L394.50 150.85 L395.00 150.99 L395.50 150.61 L396.00 149.21 L396.50 147.63 L397.00 145.04 L397.50 141.48 L398.00 137.63 L398.50 136.20 L399.00 137.03 L399.50 138.66 L400.00 139.95 L400.50 140.85 L401.00 141.66 L401.50 141.44 L402.00 140.54 L402.50 140.01 L403.00 140.06 L403.50 141.17 L404.00 141.89 L404.50 143.30 L405.00 144.89 L405.50 146.47 L406.00 147.16 L406.50 148.66 L407.00 149.14 L407.50 150.20 L408.00 150.70 L408.50 150.67 L409.00 151.25 L409.50 150.97 L410.00 151.42 L410.50 151.73 L411.00 151.78 L411.50 151.71 L412.00 151.58 L412.50 151.42 L413.00 152.02 L413.50 151.88 L414.00 152.03 L414.50 151.52 L415.00 152.12 L415.50 152.20 L416.00 152.21 L416.50 151.99 L417.00 151.65 L417.50 151.67 L418.00 151.79 L418.50 151.61 L419.00 151.66 L419.50 152.09 L420.00 152.19 L420.50 151.67 L421.00 151.80 L421.50 152.30 L422.00 151.85 L422.50 152.05 L423.00 152.04 L423.50 152.05 L424.00 152.13 L424.50 152.20 L425.00 151.91 L425.50 151.69 L426.00 150.97 L426.50 151.09 L427.00 149.88 L427.50 149.69 L428.00 148.96 L428.50 148.37 L429.00 148.52 L429.50 149.17 L430.00 149.94 L430.50 150.17 L431.00 150.73 L431.50 150.74 L432.00 151.56 L432.50 151.67 L433.00 151.45 L433.50 152.15 L434.00 151.95 L434.50 151.72 L435.00 151.78 L435.50 152.31 L436.00 152.33 L436.50 152.32 L437.00 151.73 L437.50 152.21 L438.00 151.87 L438.50 151.77 L439.00 152.17 L439.50 152.22 L440.00 151.75 L440.50 151.99 L441.00 152.24 L441.50 151.92 L442.00 152.21 L442.50 152.24 L443.00 152.43 L443.50 151.90 L444.00 151.79 L444.50 151.99 L445.00 151.77 L445.50 152.41 L446.00 152.27 L446.50 152.10 L447.00 151.76 L447.50 151.76 L448.00 152.16 L448.50 152.25 L449.00 152.12 L449.50 152.08 L450.00 151.77 L450.50 152.29 L451.00 151.85 L451.50 151.89 L452.00 151.83 L452.50 151.86 L453.00 151.97 L453.50 152.16 L454.00 152.16 L454.50 152.12 L455.00 151.82 L455.50 152.31 L456.00 152.21 L456.50 151.81 L457.00 152.16 L457.50 152.27 L458.00 152.28 L458.50 151.90 L459.00 152.04 L459.50 151.56 L460.00 151.61 L460.50 151.51 L461.00 151.99 L461.50 152.08 L462.00 152.03 L462.50 151.70 L463.00 151.50 L463.50 151.61 L464.00 151.68 L464.50 151.46 L465.00 151.20 L465.50 151.01 L466.00 150.76 L466.50 150.41 L467.00 150.09 L467.50 149.71 L468.00 147.82 L468.50 145.77 L469.00 141.65 L469.50 136.14 L470.00 128.92 L470.50 122.38 L471.00 117.95 L471.50 117.86 L472.00 119.93 L472.50 122.78 L473.00 127.08 L473.50 131.54 L474.00 135.57 L474.50 138.77 L475.00 142.13 L475.50 144.74 L476.00 146.19 L476.50 147.65 L477.00 148.39 L477.50 149.69 L478.00 149.90 L478.50 149.99 L479.00 150.20 L479.50 150.31 L480.00 151.04 L480.50 150.94 L481.00 151.11 L481.50 151.06 L482.00 150.47 L482.50 150.58 L483.00 149.96 L483.50 149.55 L484.00 147.78 L484.50 145.90 L485.00 143.39 L485.50 140.72 L486.00 139.92 L486.50 141.08 L487.00 141.94 L487.50 143.45 L488.00 145.34 L488.50 146.74 L489.00 148.20 L489.50 149.20 L490.00 149.95 L490.50 150.28 L491.00 150.64 L491.50 151.23 L492.00 151.54 L492.50 151.44 L493.00 151.28 L493.50 151.68 L494.00 151.62 L494.50 151.71 L495.00 151.25 L495.50 151.32 L496.00 151.46 L496.50 151.10 L497.00 150.45 L497.50 149.85 L498.00 149.40 L498.50 149.68 L499.00 149.78 L499.50 149.72 L500.00 150.30 L500.50 150.78 L501.00 151.11 L501.50 150.94 L502.00 151.60 L502.50 151.58 L503.00 151.84 L503.50 151.87 L504.00 151.61 L504.50 151.55 L505.00 152.02 L505.50 152.15 L506.00 151.80 L506.50 152.18 L507.00 152.33 L507.50 151.71 L508.00 152.06 L508.50 151.79 L509.00 152.09 L509.50 151.76 L510.00 152.06 L510.50 152.28 L511.00 152.39 L511.50 152.02 L512.00 151.96 L512.50 151.78 L513.00 152.35 L513.50 151.99 L514.00 152.16 L514.50 152.07 L515.00 152.33 L515.50 152.24 L516.00 152.07 L516.50 151.79 L517.00 152.37 L517.50 152.10 L518.00 151.88 L518.50 151.77 L519.00 152.31 L519.50 152.36 L520.00 151.79 L520.50 151.77 L521.00 152.12 L521.50 152.42 L522.00 151.81 L522.50 152.19 L523.00 151.83 L523.50 152.03 L524.00 151.89 L524.50 152.35 L525.00 151.92 L525.50 152.31 L526.00 152.18 L526.50 151.88 L527.00 151.89 L527.50 152.34 L528.00 152.32 L528.50 152.19 L529.00 152.11 L529.50 152.20 L530.00 152.38 L530.50 152.30 L531.00 151.96 L531.50 151.84 L532.00 152.44 L532.50 152.07 L533.00 151.93 L533.50 152.44 L534.00 151.87 L534.50 152.38 L535.00 152.04 L535.50 152.07 L536.00 152.01 L536.50 152.23 L537.00 152.14 L537.50 152.02 L538.00 152.12 L538.50 151.94 L539.00 152.07 L539.50 152.04 L540.00 152.27 L540.50 151.77 L541.00 151.73 L541.50 151.74 L542.00 151.15 L542.50 150.89 L543.00 150.87 L543.50 150.89 L544.00 150.64 L544.50 151.00 L545.00 151.19 L545.50 151.22 L546.00 151.69 L546.50 151.65 L547.00 151.75 L547.50 152.18 L548.00 151.84 L548.50 152.26 L549.00 151.83 L549.50 151.81 L550.00 152.00 L550.50 152.33 L551.00 152.01 L551.50 152.09 L552.00 151.68 L552.50 152.24 L553.00 151.73 L553.50 151.61 L554.00 151.78 L554.50 151.69 L555.00 152.10 L555.50 151.51 L556.00 151.80 L556.50 151.42 L557.00 151.37 L557.50 151.78 L558.00 151.16 L558.50 150.75 L559.00 150.79 L559.50 149.59 L560.00 147.69 L560.50 145.79 L561.00 142.42 L561.50 140.01 L562.00 137.83 L562.50 138.25 L563.00 138.77 L563.50 139.78 L564.00 141.88 L564.50 143.54 L565.00 145.01 L565.50 146.63 L566.00 148.09 L566.50 149.02 L567.00 149.84 L567.50 149.90 L568.00 150.52 L568.50 150.69 L569.00 151.43 L569.50 151.16 L570.00 151.75 L570.50 151.54 L571.00 151.54 L571.50 151.79 L572.00 151.47 L572.50 151.74 L573.00 151.75 L573.50 151.57 L574.00 152.14 L574.50 151.54 L575.00 151.81 L575.50 151.99 L576.00 151.72 L576.50 152.11 L577.00 151.61 L577.50 151.91 L578.00 152.06 L578.50 151.78 L579.00 152.00 L579.50 152.17 L580.00 151.74 L580.50 152.17 L581.00 151.55 L581.50 151.84 L582.00 151.44 L582.50 151.08 L583.00 151.26 L583.50 151.17 L584.00 151.46 L584.50 151.78 L585.00 151.90 L585.50 151.95 L586.00 151.74 L586.50 151.96 L587.00 151.97 L587.50 151.74 L588.00 152.31 L588.50 152.26 L589.00 151.98 L589.50 152.43 L590.00 152.45 L590.50 152.21 L591.00 152.39 L591.50 152.21 L592.00 152.31 L592.50 152.06 L593.00 152.06 L593.50 152.34 L594.00 152.04 L594.50 152.15 L595.00 152.39 L595.50 151.83 L596.00 152.32 L596.50 152.39 L597.00 152.43 L597.50 152.05 L598.00 151.89 L598.50 151.95 L599.00 152.22 L599.50 152.32 L600.00 152.49 L600.50 152.05 L601.00 152.11 L601.50 152.26 L602.00 152.05 L602.50 152.20 L603.00 151.85 L603.50 151.99 L604.00 152.34 L604.50 151.88 L605.00 152.48 L605.50 152.14 L606.00 152.23 L606.50 152.35 L607.00 152.47 L607.50 151.97 L608.00 152.51 L608.50 152.13 L609.00 151.86 L609.50 152.42 L610.00 152.38 L610.50 152.09 L611.00 152.16 L611.50 152.07 L612.00 151.95 L612.50 152.40 L613.00 152.30 L613.50 152.31 L614.00 152.49 L614.50 151.90 L615.00 151.97 L615.50 152.02 L616.00 152.52 L616.50 151.93 L617.00 152.00 L617.50 152.20 L618.00 152.01 L618.50 152.21 L619.00 152.37 L619.50 152.45 L620.00 152.36 L620.50 152.50 L621.00 152.29 L621.50 152.00 L622.00 152.04 L622.50 151.94 L623.00 152.03 L623.50 152.34 L624.00 152.14 L624.50 152.22 L625.00 151.98 L625.50 152.16 L626.00 152.34 L626.50 152.08 L627.00 151.85 L627.50 152.38 L628.00 151.91 L628.50 152.52 L629.00 152.35 L629.50 152.37 L630.00 152.01 L630.50 151.87 L631.00 152.01 L631.50 152.30 L632.00 151.92 L632.50 152.30 L633.00 152.36 L633.50 151.90 L634.00 152.09 L634.50 152.05" stroke="#111" stroke-width="1.2" fill="none" stroke-linejoin="round"/>
<g transform="translate(97.7 15.0) rotate(-48)"><text x="0" y="5.3" font-size="16" text-anchor="middle">(101)</text><rect x="4.9" y="-8.6" width="6.2" height="1.4" fill="#000"/></g>
<g transform="translate(153.8 64.6) rotate(-48)"><text x="0" y="5.3" font-size="16" text-anchor="middle">(002)</text></g>
<g transform="translate(165.8 104.6) rotate(-48)"><text x="0" y="5.3" font-size="16" text-anchor="middle">(101)</text></g>
<g transform="translate(292.1 110.3) rotate(-48)"><text x="0" y="5.3" font-size="16" text-anchor="middle">(103)</text><rect x="4.9" y="-8.6" width="6.2" height="1.4" fill="#000"/></g>
<g transform="translate(311.2 120.8) rotate(-48)"><text x="0" y="5.3" font-size="16" text-anchor="middle">(200)</text></g>
<g transform="translate(330.2 131.3) rotate(-48)"><text x="0" y="5.3" font-size="16" text-anchor="middle">(202)</text><rect x="4.9" y="-8.6" width="6.2" height="1.4" fill="#000"/></g>
<g transform="translate(386.8 129.8) rotate(-48)"><text x="0" y="5.3" font-size="16" text-anchor="middle">(110)</text></g>
<g transform="translate(408.0 96.1) rotate(-48)"><text x="0" y="5.3" font-size="16" text-anchor="middle">(012)</text></g>
<g transform="translate(415.3 119.6) rotate(-48)"><text x="0" y="5.3" font-size="16" text-anchor="middle">(111)</text></g>
<g transform="translate(439.4 130.8) rotate(-48)"><text x="0" y="5.3" font-size="16" text-anchor="middle">(004)</text></g>
<g transform="translate(481.2 96.2) rotate(-48)"><text x="0" y="5.3" font-size="16" text-anchor="middle">(112)</text></g>
<g transform="translate(496.0 116.8) rotate(-48)"><text x="0" y="5.3" font-size="16" text-anchor="middle">(013)</text></g>
<g transform="translate(507.7 131.1) rotate(-48)"><text x="0" y="5.3" font-size="16" text-anchor="middle">(301)</text><rect x="4.9" y="-8.6" width="6.2" height="1.4" fill="#000"/></g>
<g transform="translate(573.8 116.8) rotate(-48)"><text x="0" y="5.3" font-size="16" text-anchor="middle">(113)</text></g>
<path d="M125.7 259.6 L118.6 282.7" stroke="#0d8a17" stroke-width="2.6"/><path d="M113.6 298.9 L112.2 279.6 L125.6 283.8 Z" fill="#0d8a17"/>
<path d="M531.4 227.9 L524.7 250.3" stroke="#0d8a17" stroke-width="2.6"/><path d="M519.9 266.6 L518.3 247.4 L531.7 251.3 Z" fill="#0d8a17"/>
<path d="M677.5 223.1 L677.5 301.7" stroke="#000" stroke-width="2.6"/><path d="M677.5 318.7 L671.0 300.7 L684.0 300.7 Z" fill="#000"/>
<path d="M534.30 262.60L534.30 258.60M534.30 262.60L538.10 261.36M534.30 262.60L536.65 265.84M534.30 262.60L531.95 265.84M534.30 262.60L530.50 261.36" stroke="#1414d8" stroke-width="2.2" stroke-linecap="round" fill="none"/>
<path d="M112.10 497.60L112.10 493.60M112.10 497.60L115.90 496.36M112.10 497.60L114.45 500.84M112.10 497.60L109.75 500.84M112.10 497.60L108.30 496.36" stroke="#dd1414" stroke-width="2.2" stroke-linecap="round" fill="none"/>
<path d="M514.00 499.30L514.00 495.30M514.00 499.30L517.80 498.06M514.00 499.30L516.35 502.54M514.00 499.30L511.65 502.54M514.00 499.30L510.20 498.06" stroke="#dd1414" stroke-width="2.2" stroke-linecap="round" fill="none"/>
</svg></body></html>
